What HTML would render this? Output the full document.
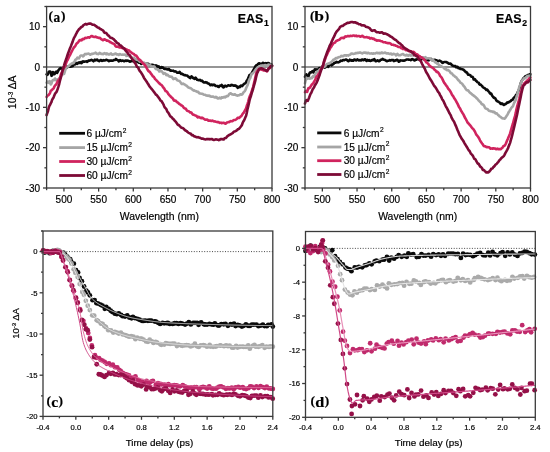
<!DOCTYPE html><html><head><meta charset="utf-8"><style>html,body{margin:0;padding:0;background:#fff;width:550px;height:452px;overflow:hidden}svg{display:block;filter:blur(0.35px)}</style></head><body><svg width="550" height="452" viewBox="0 0 550 452" font-family='"Liberation Sans", sans-serif'>
<style>.ax{stroke:#3a3a3a;stroke-width:1.3;fill:none} text{fill:#000;stroke:#000;stroke-width:0.18px}</style>
<rect width="550" height="452" fill="#fff"/>
<line x1="46.60" y1="67.00" x2="272.00" y2="67.00" stroke="#727272" stroke-width="1.4"/>
<line x1="305.00" y1="67.00" x2="530.50" y2="67.00" stroke="#727272" stroke-width="1.4"/>
<line x1="43.00" y1="251.60" x2="272.80" y2="251.60" stroke="#333" stroke-width="0.9" stroke-dasharray="1 1.6"/>
<line x1="305.50" y1="248.39" x2="535.30" y2="248.39" stroke="#333" stroke-width="0.9" stroke-dasharray="1 1.6"/>
<path d="M46.60,74.26 L47.30,74.89 L48.00,74.26 L48.70,71.82 L49.40,71.49 L50.10,71.45 L50.80,72.27 L51.50,75.84 L52.20,74.93 L52.90,71.99 L53.60,73.13 L54.30,74.21 L55.00,73.53 L55.70,71.94 L56.40,71.59 L57.10,73.00 L57.80,71.57 L58.50,70.20 L59.20,69.47 L59.90,68.42 L60.60,68.14 L61.30,68.52 L62.00,68.58 L62.70,68.50 L63.40,69.11 L64.10,68.49 L64.80,66.60 L65.50,66.17 L66.20,67.48 L66.90,67.68 L67.60,66.69 L68.30,66.20 L69.00,66.34 L69.70,65.98 L70.40,66.80 L71.10,66.56 L71.80,65.71 L72.50,66.18 L73.20,65.53 L73.90,64.66 L74.60,64.58 L75.30,64.27 L76.00,63.30 L76.70,62.98 L77.40,63.84 L78.10,62.91 L78.80,62.47 L79.50,62.99 L80.20,62.16 L80.90,62.78 L81.60,63.20 L82.30,61.71 L83.00,61.28 L83.70,61.89 L84.40,61.65 L85.10,61.57 L85.80,61.50 L86.50,61.37 L87.20,61.86 L87.90,61.21 L88.60,60.61 L89.30,60.61 L90.00,60.51 L90.70,60.17 L91.40,59.85 L92.10,60.23 L92.80,60.80 L93.50,61.32 L94.20,60.42 L94.90,59.64 L95.60,60.41 L96.30,59.93 L97.00,59.48 L97.70,60.21 L98.40,60.88 L99.10,61.18 L99.80,60.55 L100.50,60.12 L101.20,60.15 L101.90,60.88 L102.60,60.81 L103.30,60.08 L104.00,60.38 L104.70,60.45 L105.40,60.23 L106.10,59.84 L106.80,59.91 L107.50,60.17 L108.20,60.63 L108.90,61.06 L109.60,60.59 L110.30,60.60 L111.00,60.48 L111.70,60.63 L112.40,60.77 L113.10,60.59 L113.80,60.10 L114.50,60.03 L115.20,59.89 L115.90,58.98 L116.60,59.54 L117.30,60.00 L118.00,60.21 L118.70,61.46 L119.40,61.11 L120.10,60.02 L120.80,60.46 L121.50,60.93 L122.20,60.82 L122.90,60.58 L123.60,60.97 L124.30,61.29 L125.00,60.66 L125.70,60.48 L126.40,60.94 L127.10,60.61 L127.80,60.75 L128.50,60.88 L129.20,61.21 L129.90,61.68 L130.60,61.40 L131.30,61.15 L132.00,61.13 L132.70,60.65 L133.40,60.32 L134.10,61.30 L134.80,60.98 L135.50,61.24 L136.20,61.46 L136.90,61.53 L137.60,62.02 L138.30,62.18 L139.00,62.73 L139.70,62.01 L140.40,62.64 L141.10,63.99 L141.80,63.67 L142.50,63.19 L143.20,63.34 L143.90,63.23 L144.60,63.86 L145.30,64.17 L146.00,63.84 L146.70,63.87 L147.40,63.76 L148.10,63.68 L148.80,64.53 L149.50,65.08 L150.20,65.08 L150.90,65.26 L151.60,64.75 L152.30,64.75 L153.00,64.95 L153.70,65.24 L154.40,65.50 L155.10,65.58 L155.80,65.41 L156.50,65.44 L157.20,66.84 L157.90,67.12 L158.60,66.29 L159.30,66.89 L160.00,68.05 L160.70,67.57 L161.40,67.15 L162.10,67.68 L162.80,67.28 L163.50,68.02 L164.20,68.90 L164.90,68.85 L165.60,68.77 L166.30,69.12 L167.00,69.40 L167.70,69.37 L168.40,69.34 L169.10,69.11 L169.80,70.24 L170.50,70.69 L171.20,70.46 L171.90,70.80 L172.60,70.68 L173.30,70.66 L174.00,71.24 L174.70,71.48 L175.40,71.35 L176.10,71.65 L176.80,72.35 L177.50,72.79 L178.20,72.69 L178.90,72.42 L179.60,71.96 L180.30,72.79 L181.00,73.95 L181.70,73.78 L182.40,73.87 L183.10,74.50 L183.80,74.88 L184.50,75.21 L185.20,74.98 L185.90,75.49 L186.60,75.46 L187.30,75.48 L188.00,76.43 L188.70,76.72 L189.40,77.55 L190.10,78.08 L190.80,77.19 L191.50,76.25 L192.20,77.31 L192.90,77.87 L193.60,77.84 L194.30,78.85 L195.00,78.50 L195.70,77.64 L196.40,78.66 L197.10,79.77 L197.80,79.86 L198.50,80.14 L199.20,80.18 L199.90,79.85 L200.60,80.39 L201.30,80.88 L202.00,80.57 L202.70,81.40 L203.40,82.27 L204.10,82.47 L204.80,82.35 L205.50,82.17 L206.20,82.39 L206.90,82.53 L207.60,83.21 L208.30,83.47 L209.00,83.75 L209.70,84.39 L210.40,85.24 L211.10,84.76 L211.80,84.51 L212.50,85.20 L213.20,85.03 L213.90,84.67 L214.60,84.68 L215.30,85.72 L216.00,86.06 L216.70,86.00 L217.40,86.11 L218.10,86.70 L218.80,86.97 L219.50,85.81 L220.20,85.67 L220.90,85.85 L221.60,84.91 L222.30,85.49 L223.00,87.24 L223.70,87.36 L224.40,86.23 L225.10,85.65 L225.80,86.32 L226.50,86.51 L227.20,85.86 L227.90,85.56 L228.60,85.37 L229.30,85.57 L230.00,85.69 L230.70,85.45 L231.40,84.88 L232.10,85.08 L232.80,85.34 L233.50,85.72 L234.20,85.65 L234.90,85.35 L235.60,86.02 L236.30,85.73 L237.00,86.56 L237.70,87.78 L238.40,87.04 L239.10,86.85 L239.80,87.21 L240.50,85.82 L241.20,85.52 L241.90,86.13 L242.60,85.59 L243.30,84.67 L244.00,83.97 L244.70,83.56 L245.40,83.18 L246.10,82.27 L246.80,80.61 L247.50,79.84 L248.20,78.39 L248.90,76.46 L249.60,74.88 L250.30,74.57 L251.00,74.56 L251.70,73.23 L252.40,72.03 L253.10,70.64 L253.80,69.41 L254.50,68.20 L255.20,66.78 L255.90,65.61 L256.60,65.22 L257.30,64.82 L258.00,64.07 L258.70,63.52 L259.40,63.20 L260.10,63.97 L260.80,64.34 L261.50,63.69 L262.20,63.32 L262.90,62.83 L263.60,62.92 L264.30,63.68 L265.00,63.57 L265.70,63.17 L266.40,63.29 L267.10,63.50 L267.80,63.06 L268.50,63.04 L269.20,63.46 L269.90,64.05 L270.60,64.25 L271.30,64.31 L272.00,65.40" fill="none" stroke="#0a0a0a" stroke-width="2.6" stroke-linejoin="round" stroke-linecap="round"/>
<path d="M46.60,82.67 L47.30,81.65 L48.00,82.18 L48.70,82.82 L49.40,81.21 L50.10,81.49 L50.80,84.50 L51.50,83.51 L52.20,80.99 L52.90,80.07 L53.60,80.27 L54.30,79.92 L55.00,78.51 L55.70,80.13 L56.40,80.00 L57.10,79.42 L57.80,80.63 L58.50,79.58 L59.20,78.38 L59.90,78.75 L60.60,77.64 L61.30,75.46 L62.00,74.08 L62.70,73.62 L63.40,74.24 L64.10,73.80 L64.80,71.55 L65.50,69.37 L66.20,68.24 L66.90,67.57 L67.60,66.83 L68.30,66.13 L69.00,65.79 L69.70,65.06 L70.40,64.42 L71.10,64.11 L71.80,63.53 L72.50,63.06 L73.20,63.26 L73.90,62.70 L74.60,61.38 L75.30,59.91 L76.00,59.48 L76.70,58.84 L77.40,57.62 L78.10,58.14 L78.80,58.38 L79.50,57.45 L80.20,56.03 L80.90,55.48 L81.60,55.47 L82.30,55.52 L83.00,56.35 L83.70,55.96 L84.40,54.63 L85.10,53.92 L85.80,54.02 L86.50,54.23 L87.20,53.71 L87.90,53.72 L88.60,53.65 L89.30,53.93 L90.00,54.66 L90.70,54.59 L91.40,53.98 L92.10,53.74 L92.80,53.84 L93.50,53.50 L94.20,53.43 L94.90,53.11 L95.60,52.71 L96.30,53.46 L97.00,53.92 L97.70,53.71 L98.40,54.14 L99.10,53.46 L99.80,52.83 L100.50,53.51 L101.20,53.94 L101.90,53.75 L102.60,53.99 L103.30,54.21 L104.00,53.42 L104.70,53.03 L105.40,53.76 L106.10,54.26 L106.80,53.32 L107.50,53.64 L108.20,54.54 L108.90,54.55 L109.60,54.22 L110.30,53.66 L111.00,53.41 L111.70,54.44 L112.40,54.81 L113.10,54.51 L113.80,54.39 L114.50,53.93 L115.20,53.62 L115.90,53.49 L116.60,54.49 L117.30,54.25 L118.00,54.36 L118.70,55.00 L119.40,54.33 L120.10,54.12 L120.80,54.42 L121.50,54.67 L122.20,54.74 L122.90,54.57 L123.60,54.76 L124.30,54.80 L125.00,54.57 L125.70,55.03 L126.40,55.92 L127.10,55.53 L127.80,55.37 L128.50,55.88 L129.20,55.75 L129.90,56.53 L130.60,56.96 L131.30,57.48 L132.00,57.69 L132.70,57.61 L133.40,58.12 L134.10,58.04 L134.80,58.66 L135.50,59.19 L136.20,59.52 L136.90,59.90 L137.60,59.67 L138.30,60.04 L139.00,60.84 L139.70,61.63 L140.40,61.69 L141.10,61.75 L141.80,61.85 L142.50,62.48 L143.20,63.07 L143.90,62.53 L144.60,63.20 L145.30,64.51 L146.00,64.26 L146.70,63.72 L147.40,64.23 L148.10,64.44 L148.80,65.06 L149.50,65.39 L150.20,65.23 L150.90,65.96 L151.60,66.19 L152.30,66.41 L153.00,66.63 L153.70,66.37 L154.40,66.43 L155.10,67.92 L155.80,68.89 L156.50,68.78 L157.20,69.36 L157.90,69.82 L158.60,70.33 L159.30,71.43 L160.00,71.51 L160.70,70.72 L161.40,71.15 L162.10,71.63 L162.80,72.65 L163.50,73.81 L164.20,73.59 L164.90,73.19 L165.60,73.78 L166.30,75.14 L167.00,74.64 L167.70,74.71 L168.40,75.69 L169.10,76.24 L169.80,76.60 L170.50,76.48 L171.20,76.67 L171.90,76.76 L172.60,78.11 L173.30,79.08 L174.00,78.78 L174.70,78.52 L175.40,78.33 L176.10,78.85 L176.80,79.86 L177.50,80.35 L178.20,80.71 L178.90,80.75 L179.60,81.18 L180.30,82.00 L181.00,82.93 L181.70,84.06 L182.40,84.02 L183.10,83.56 L183.80,84.05 L184.50,84.57 L185.20,84.80 L185.90,85.44 L186.60,85.78 L187.30,86.45 L188.00,87.22 L188.70,87.54 L189.40,87.96 L190.10,88.07 L190.80,88.24 L191.50,88.85 L192.20,89.42 L192.90,90.00 L193.60,90.59 L194.30,90.41 L195.00,90.80 L195.70,91.15 L196.40,91.23 L197.10,91.92 L197.80,91.71 L198.50,92.15 L199.20,93.23 L199.90,93.43 L200.60,93.50 L201.30,93.68 L202.00,93.74 L202.70,94.01 L203.40,94.38 L204.10,94.71 L204.80,94.68 L205.50,94.91 L206.20,95.55 L206.90,95.58 L207.60,95.53 L208.30,95.92 L209.00,95.62 L209.70,95.73 L210.40,96.53 L211.10,96.60 L211.80,96.77 L212.50,96.57 L213.20,96.46 L213.90,97.05 L214.60,97.43 L215.30,97.42 L216.00,96.88 L216.70,97.15 L217.40,98.25 L218.10,98.55 L218.80,98.35 L219.50,97.56 L220.20,97.90 L220.90,98.47 L221.60,97.29 L222.30,97.50 L223.00,97.78 L223.70,96.95 L224.40,96.89 L225.10,97.33 L225.80,96.90 L226.50,96.00 L227.20,96.20 L227.90,96.17 L228.60,95.08 L229.30,94.11 L230.00,93.52 L230.70,93.34 L231.40,93.97 L232.10,94.42 L232.80,94.40 L233.50,94.72 L234.20,94.53 L234.90,94.29 L235.60,94.95 L236.30,95.31 L237.00,95.55 L237.70,95.59 L238.40,95.18 L239.10,95.23 L239.80,95.01 L240.50,94.22 L241.20,94.52 L241.90,94.66 L242.60,93.99 L243.30,92.72 L244.00,91.70 L244.70,91.22 L245.40,90.11 L246.10,88.33 L246.80,86.62 L247.50,85.44 L248.20,83.33 L248.90,80.69 L249.60,78.93 L250.30,77.93 L251.00,75.53 L251.70,73.87 L252.40,73.78 L253.10,72.89 L253.80,72.24 L254.50,71.46 L255.20,70.15 L255.90,69.16 L256.60,68.72 L257.30,67.88 L258.00,67.10 L258.70,67.16 L259.40,67.38 L260.10,66.55 L260.80,65.48 L261.50,65.44 L262.20,65.93 L262.90,65.85 L263.60,65.90 L264.30,65.56 L265.00,64.98 L265.70,65.25 L266.40,65.59 L267.10,66.03 L267.80,65.22 L268.50,64.53 L269.20,65.18 L269.90,65.27 L270.60,64.62 L271.30,65.22 L272.00,65.93" fill="none" stroke="#a5a5a5" stroke-width="2.6" stroke-linejoin="round" stroke-linecap="round"/>
<path d="M46.60,96.97 L47.30,95.87 L48.00,95.46 L48.70,94.88 L49.40,94.03 L50.10,92.78 L50.80,90.69 L51.50,90.47 L52.20,89.68 L52.90,88.98 L53.60,88.52 L54.30,86.74 L55.00,85.61 L55.70,84.81 L56.40,84.03 L57.10,82.74 L57.80,80.91 L58.50,80.19 L59.20,79.61 L59.90,78.19 L60.60,75.66 L61.30,73.31 L62.00,72.18 L62.70,70.56 L63.40,68.39 L64.10,67.26 L64.80,66.52 L65.50,64.95 L66.20,62.85 L66.90,61.02 L67.60,59.97 L68.30,58.47 L69.00,56.66 L69.70,55.49 L70.40,54.28 L71.10,52.76 L71.80,51.42 L72.50,50.02 L73.20,48.60 L73.90,47.46 L74.60,46.78 L75.30,46.00 L76.00,44.51 L76.70,43.51 L77.40,42.82 L78.10,42.37 L78.80,41.35 L79.50,40.26 L80.20,40.00 L80.90,40.39 L81.60,40.28 L82.30,39.22 L83.00,38.86 L83.70,39.15 L84.40,38.69 L85.10,37.87 L85.80,38.04 L86.50,38.06 L87.20,37.71 L87.90,37.22 L88.60,37.28 L89.30,37.61 L90.00,37.07 L90.70,36.69 L91.40,36.01 L92.10,36.04 L92.80,36.60 L93.50,36.68 L94.20,37.06 L94.90,37.04 L95.60,36.62 L96.30,36.98 L97.00,37.42 L97.70,37.48 L98.40,37.76 L99.10,38.00 L99.80,37.82 L100.50,38.43 L101.20,39.29 L101.90,39.48 L102.60,40.13 L103.30,40.08 L104.00,39.37 L104.70,39.37 L105.40,39.75 L106.10,40.08 L106.80,40.64 L107.50,40.52 L108.20,40.85 L108.90,41.25 L109.60,41.55 L110.30,42.25 L111.00,42.48 L111.70,42.89 L112.40,43.26 L113.10,43.56 L113.80,43.71 L114.50,44.29 L115.20,45.59 L115.90,46.50 L116.60,46.76 L117.30,46.80 L118.00,46.62 L118.70,47.09 L119.40,47.50 L120.10,47.37 L120.80,47.53 L121.50,47.78 L122.20,47.95 L122.90,48.12 L123.60,48.17 L124.30,48.32 L125.00,49.39 L125.70,49.72 L126.40,49.39 L127.10,49.85 L127.80,50.43 L128.50,50.40 L129.20,50.58 L129.90,51.51 L130.60,52.08 L131.30,52.36 L132.00,53.18 L132.70,53.50 L133.40,53.68 L134.10,54.27 L134.80,55.18 L135.50,55.41 L136.20,55.47 L136.90,56.47 L137.60,57.48 L138.30,58.47 L139.00,59.40 L139.70,59.63 L140.40,60.27 L141.10,61.40 L141.80,61.87 L142.50,62.92 L143.20,63.69 L143.90,63.89 L144.60,64.87 L145.30,65.88 L146.00,66.71 L146.70,68.11 L147.40,69.30 L148.10,70.57 L148.80,71.42 L149.50,71.62 L150.20,72.44 L150.90,73.54 L151.60,74.35 L152.30,75.57 L153.00,76.56 L153.70,76.77 L154.40,77.85 L155.10,79.03 L155.80,79.64 L156.50,80.36 L157.20,81.10 L157.90,81.74 L158.60,82.56 L159.30,83.34 L160.00,83.84 L160.70,84.58 L161.40,84.91 L162.10,85.60 L162.80,86.78 L163.50,87.79 L164.20,88.46 L164.90,89.76 L165.60,91.07 L166.30,91.30 L167.00,91.77 L167.70,92.88 L168.40,94.11 L169.10,94.78 L169.80,95.55 L170.50,96.27 L171.20,97.07 L171.90,97.71 L172.60,98.20 L173.30,99.25 L174.00,100.51 L174.70,100.62 L175.40,100.46 L176.10,101.09 L176.80,101.99 L177.50,102.51 L178.20,102.78 L178.90,103.65 L179.60,104.13 L180.30,104.49 L181.00,105.20 L181.70,105.50 L182.40,105.83 L183.10,106.82 L183.80,107.77 L184.50,108.38 L185.20,108.43 L185.90,108.89 L186.60,110.03 L187.30,110.77 L188.00,111.04 L188.70,111.16 L189.40,111.81 L190.10,112.36 L190.80,112.37 L191.50,112.76 L192.20,113.84 L192.90,114.51 L193.60,114.85 L194.30,115.06 L195.00,115.37 L195.70,115.68 L196.40,115.74 L197.10,116.82 L197.80,117.35 L198.50,116.91 L199.20,116.99 L199.90,117.48 L200.60,118.07 L201.30,118.12 L202.00,117.64 L202.70,117.93 L203.40,118.59 L204.10,118.90 L204.80,119.42 L205.50,119.67 L206.20,119.72 L206.90,119.54 L207.60,119.72 L208.30,120.66 L209.00,120.79 L209.70,120.48 L210.40,120.48 L211.10,121.00 L211.80,120.88 L212.50,120.56 L213.20,121.06 L213.90,121.43 L214.60,121.39 L215.30,121.48 L216.00,121.73 L216.70,121.90 L217.40,122.15 L218.10,122.04 L218.80,122.25 L219.50,122.92 L220.20,122.83 L220.90,122.66 L221.60,123.14 L222.30,122.96 L223.00,122.83 L223.70,122.77 L224.40,122.92 L225.10,123.64 L225.80,123.72 L226.50,122.92 L227.20,122.42 L227.90,122.31 L228.60,121.94 L229.30,122.08 L230.00,121.51 L230.70,121.16 L231.40,121.26 L232.10,121.13 L232.80,120.96 L233.50,120.20 L234.20,119.96 L234.90,120.02 L235.60,119.66 L236.30,119.27 L237.00,118.78 L237.70,117.76 L238.40,117.70 L239.10,117.95 L239.80,117.29 L240.50,116.58 L241.20,116.14 L241.90,115.24 L242.60,113.93 L243.30,113.01 L244.00,112.40 L244.70,110.92 L245.40,109.64 L246.10,108.31 L246.80,105.76 L247.50,103.94 L248.20,101.78 L248.90,98.80 L249.60,96.62 L250.30,95.19 L251.00,93.62 L251.70,91.31 L252.40,89.05 L253.10,87.10 L253.80,84.13 L254.50,80.94 L255.20,77.93 L255.90,74.81 L256.60,72.38 L257.30,71.11 L258.00,70.22 L258.70,69.27 L259.40,68.78 L260.10,69.21 L260.80,69.46 L261.50,69.54 L262.20,69.92 L262.90,70.02 L263.60,70.53 L264.30,70.45 L265.00,70.35 L265.70,70.67 L266.40,71.01 L267.10,71.33 L267.80,69.87 L268.50,68.48 L269.20,68.31 L269.90,67.97 L270.60,67.39 L271.30,66.74 L272.00,66.29" fill="none" stroke="#d0245e" stroke-width="2.6" stroke-linejoin="round" stroke-linecap="round"/>
<path d="M46.60,115.01 L47.30,112.92 L48.00,111.09 L48.70,107.97 L49.40,105.83 L50.10,104.74 L50.80,103.15 L51.50,101.97 L52.20,99.68 L52.90,98.56 L53.60,97.26 L54.30,95.44 L55.00,93.88 L55.70,92.80 L56.40,92.02 L57.10,90.70 L57.80,88.61 L58.50,86.42 L59.20,84.02 L59.90,81.03 L60.60,78.45 L61.30,75.99 L62.00,72.97 L62.70,69.95 L63.40,67.53 L64.10,65.33 L64.80,62.93 L65.50,61.02 L66.20,59.04 L66.90,56.84 L67.60,54.72 L68.30,52.71 L69.00,51.05 L69.70,48.92 L70.40,47.36 L71.10,45.64 L71.80,43.73 L72.50,42.11 L73.20,39.92 L73.90,38.10 L74.60,36.90 L75.30,35.61 L76.00,34.21 L76.70,32.92 L77.40,31.41 L78.10,30.45 L78.80,29.47 L79.50,28.76 L80.20,28.31 L80.90,27.37 L81.60,26.86 L82.30,26.54 L83.00,25.80 L83.70,24.93 L84.40,24.61 L85.10,24.19 L85.80,23.91 L86.50,24.45 L87.20,24.25 L87.90,23.87 L88.60,23.65 L89.30,23.47 L90.00,23.64 L90.70,23.60 L91.40,23.94 L92.10,24.57 L92.80,24.80 L93.50,24.79 L94.20,24.89 L94.90,25.32 L95.60,25.87 L96.30,26.36 L97.00,26.88 L97.70,27.56 L98.40,27.64 L99.10,27.68 L99.80,28.76 L100.50,29.20 L101.20,29.30 L101.90,29.79 L102.60,30.14 L103.30,30.72 L104.00,32.05 L104.70,32.83 L105.40,32.68 L106.10,32.92 L106.80,33.76 L107.50,34.85 L108.20,35.44 L108.90,35.72 L109.60,36.68 L110.30,37.58 L111.00,37.86 L111.70,37.98 L112.40,38.25 L113.10,38.86 L113.80,39.23 L114.50,40.06 L115.20,40.93 L115.90,41.41 L116.60,42.49 L117.30,43.22 L118.00,43.18 L118.70,43.74 L119.40,44.86 L120.10,45.17 L120.80,45.38 L121.50,46.19 L122.20,46.75 L122.90,47.79 L123.60,48.33 L124.30,48.52 L125.00,49.73 L125.70,50.68 L126.40,51.56 L127.10,52.47 L127.80,53.22 L128.50,54.27 L129.20,54.75 L129.90,55.43 L130.60,56.67 L131.30,57.65 L132.00,58.82 L132.70,59.57 L133.40,60.37 L134.10,61.73 L134.80,62.95 L135.50,63.67 L136.20,65.07 L136.90,66.77 L137.60,67.11 L138.30,67.77 L139.00,69.72 L139.70,70.95 L140.40,71.63 L141.10,72.62 L141.80,73.69 L142.50,74.92 L143.20,76.15 L143.90,77.58 L144.60,78.81 L145.30,79.72 L146.00,80.66 L146.70,81.81 L147.40,82.90 L148.10,83.87 L148.80,85.26 L149.50,86.33 L150.20,87.16 L150.90,88.09 L151.60,88.91 L152.30,89.73 L153.00,90.57 L153.70,91.68 L154.40,92.42 L155.10,93.43 L155.80,94.54 L156.50,94.96 L157.20,95.71 L157.90,96.60 L158.60,97.63 L159.30,98.54 L160.00,99.69 L160.70,100.66 L161.40,100.97 L162.10,102.06 L162.80,103.22 L163.50,104.50 L164.20,106.30 L164.90,107.60 L165.60,108.24 L166.30,109.08 L167.00,110.85 L167.70,112.15 L168.40,112.81 L169.10,113.95 L169.80,115.41 L170.50,116.39 L171.20,116.82 L171.90,117.53 L172.60,118.51 L173.30,119.18 L174.00,119.67 L174.70,120.64 L175.40,121.47 L176.10,122.22 L176.80,123.18 L177.50,124.41 L178.20,124.89 L178.90,125.03 L179.60,125.81 L180.30,126.54 L181.00,127.39 L181.70,127.77 L182.40,127.94 L183.10,128.24 L183.80,128.75 L184.50,129.73 L185.20,130.45 L185.90,130.62 L186.60,131.03 L187.30,131.74 L188.00,132.43 L188.70,132.81 L189.40,133.16 L190.10,133.41 L190.80,133.71 L191.50,134.92 L192.20,135.15 L192.90,135.16 L193.60,136.06 L194.30,136.40 L195.00,136.48 L195.70,136.79 L196.40,137.17 L197.10,137.36 L197.80,137.14 L198.50,137.30 L199.20,137.67 L199.90,137.73 L200.60,138.10 L201.30,138.48 L202.00,138.74 L202.70,138.61 L203.40,138.72 L204.10,139.17 L204.80,139.30 L205.50,139.44 L206.20,139.25 L206.90,139.01 L207.60,139.30 L208.30,139.13 L209.00,139.08 L209.70,139.33 L210.40,139.27 L211.10,139.06 L211.80,139.00 L212.50,139.39 L213.20,139.78 L213.90,140.00 L214.60,139.79 L215.30,139.54 L216.00,139.38 L216.70,139.51 L217.40,139.63 L218.10,139.68 L218.80,140.10 L219.50,139.96 L220.20,139.28 L220.90,139.10 L221.60,139.11 L222.30,139.04 L223.00,139.52 L223.70,139.51 L224.40,138.46 L225.10,138.02 L225.80,138.05 L226.50,137.33 L227.20,136.38 L227.90,135.80 L228.60,135.39 L229.30,134.99 L230.00,134.62 L230.70,134.25 L231.40,133.81 L232.10,133.45 L232.80,132.96 L233.50,131.98 L234.20,131.46 L234.90,131.48 L235.60,131.03 L236.30,130.74 L237.00,130.27 L237.70,129.36 L238.40,129.15 L239.10,128.82 L239.80,127.79 L240.50,126.98 L241.20,126.19 L241.90,124.99 L242.60,123.06 L243.30,121.54 L244.00,120.53 L244.70,118.89 L245.40,117.31 L246.10,115.69 L246.80,112.79 L247.50,109.12 L248.20,106.37 L248.90,103.42 L249.60,100.04 L250.30,97.71 L251.00,95.70 L251.70,93.20 L252.40,91.00 L253.10,88.75 L253.80,86.01 L254.50,83.64 L255.20,81.15 L255.90,77.98 L256.60,75.04 L257.30,72.74 L258.00,71.54 L258.70,69.98 L259.40,68.81 L260.10,68.73 L260.80,68.27 L261.50,68.35 L262.20,68.57 L262.90,68.92 L263.60,69.26 L264.30,69.42 L265.00,69.78 L265.70,70.44 L266.40,70.86 L267.10,70.77 L267.80,69.97 L268.50,68.91 L269.20,68.20 L269.90,67.37 L270.60,66.37 L271.30,65.80 L272.00,65.64" fill="none" stroke="#7d0a36" stroke-width="2.6" stroke-linejoin="round" stroke-linecap="round"/>
<path d="M305.00,76.79 L305.70,75.35 L306.40,74.35 L307.10,76.17 L307.80,76.34 L308.50,76.50 L309.20,74.04 L309.90,72.43 L310.60,72.37 L311.30,72.46 L312.00,71.63 L312.70,71.12 L313.40,72.49 L314.10,70.88 L314.80,69.43 L315.50,69.72 L316.20,69.30 L316.90,70.10 L317.60,69.63 L318.30,69.27 L319.00,68.17 L319.70,68.07 L320.40,68.41 L321.10,67.91 L321.80,68.09 L322.50,66.34 L323.20,65.70 L323.90,66.81 L324.60,67.62 L325.30,67.42 L326.00,66.61 L326.70,65.65 L327.40,65.85 L328.10,66.86 L328.80,65.99 L329.50,64.87 L330.20,63.93 L330.90,64.03 L331.60,65.33 L332.30,64.96 L333.00,64.13 L333.70,63.79 L334.40,62.74 L335.10,62.80 L335.80,62.53 L336.50,61.81 L337.20,62.16 L337.90,62.37 L338.60,62.25 L339.30,61.91 L340.00,61.36 L340.70,60.64 L341.40,60.78 L342.10,60.85 L342.80,60.27 L343.50,59.99 L344.20,60.17 L344.90,59.90 L345.60,59.55 L346.30,59.58 L347.00,60.05 L347.70,60.69 L348.40,61.26 L349.10,60.61 L349.80,59.71 L350.50,60.47 L351.20,60.59 L351.90,60.17 L352.60,60.77 L353.30,60.75 L354.00,59.80 L354.70,59.47 L355.40,59.93 L356.10,60.44 L356.80,59.88 L357.50,59.45 L358.20,60.05 L358.90,60.54 L359.60,60.15 L360.30,60.16 L361.00,60.54 L361.70,59.77 L362.40,59.48 L363.10,60.18 L363.80,60.09 L364.50,59.28 L365.20,59.37 L365.90,60.29 L366.60,60.89 L367.30,59.95 L368.00,60.28 L368.70,60.62 L369.40,60.09 L370.10,60.84 L370.80,60.85 L371.50,60.50 L372.20,59.82 L372.90,59.97 L373.60,60.12 L374.30,59.11 L375.00,60.24 L375.70,61.27 L376.40,60.95 L377.10,60.43 L377.80,60.32 L378.50,61.12 L379.20,61.14 L379.90,60.63 L380.60,59.75 L381.30,59.70 L382.00,59.39 L382.70,58.90 L383.40,59.64 L384.10,59.88 L384.80,59.82 L385.50,60.12 L386.20,60.81 L386.90,61.29 L387.60,60.69 L388.30,60.69 L389.00,60.49 L389.70,60.02 L390.40,60.59 L391.10,60.33 L391.80,59.98 L392.50,59.98 L393.20,60.12 L393.90,61.08 L394.60,60.82 L395.30,60.38 L396.00,60.33 L396.70,59.89 L397.40,59.78 L398.10,60.60 L398.80,61.73 L399.50,61.41 L400.20,60.41 L400.90,60.46 L401.60,60.56 L402.30,60.56 L403.00,60.73 L403.70,60.53 L404.40,60.60 L405.10,60.29 L405.80,59.93 L406.50,59.53 L407.20,59.48 L407.90,59.53 L408.60,59.58 L409.30,59.69 L410.00,59.72 L410.70,60.12 L411.40,59.59 L412.10,59.14 L412.80,59.24 L413.50,59.69 L414.20,60.47 L414.90,60.42 L415.60,59.66 L416.30,59.74 L417.00,59.25 L417.70,59.15 L418.40,59.33 L419.10,57.89 L419.80,58.90 L420.50,60.28 L421.20,59.12 L421.90,58.70 L422.60,58.99 L423.30,59.02 L424.00,58.67 L424.70,58.49 L425.40,59.18 L426.10,59.54 L426.80,59.85 L427.50,59.88 L428.20,60.33 L428.90,60.15 L429.60,59.56 L430.30,59.26 L431.00,58.85 L431.70,59.96 L432.40,60.14 L433.10,59.96 L433.80,60.33 L434.50,59.92 L435.20,59.92 L435.90,60.18 L436.60,60.24 L437.30,60.75 L438.00,61.22 L438.70,60.91 L439.40,60.53 L440.10,60.93 L440.80,61.32 L441.50,61.70 L442.20,62.74 L442.90,62.85 L443.60,62.18 L444.30,62.05 L445.00,61.98 L445.70,61.95 L446.40,62.11 L447.10,62.48 L447.80,62.87 L448.50,63.45 L449.20,63.69 L449.90,63.62 L450.60,63.60 L451.30,64.43 L452.00,65.23 L452.70,65.54 L453.40,65.90 L454.10,66.08 L454.80,66.03 L455.50,66.08 L456.20,67.32 L456.90,67.02 L457.60,66.86 L458.30,68.12 L459.00,68.24 L459.70,68.31 L460.40,68.97 L461.10,68.91 L461.80,69.06 L462.50,69.44 L463.20,69.55 L463.90,70.11 L464.60,70.78 L465.30,71.53 L466.00,72.24 L466.70,72.26 L467.40,73.30 L468.10,74.68 L468.80,74.82 L469.50,74.88 L470.20,75.17 L470.90,76.04 L471.60,76.80 L472.30,76.68 L473.00,77.41 L473.70,79.54 L474.40,79.35 L475.10,79.37 L475.80,80.76 L476.50,81.06 L477.20,82.04 L477.90,82.35 L478.60,82.61 L479.30,84.12 L480.00,84.64 L480.70,84.66 L481.40,85.38 L482.10,85.99 L482.80,87.07 L483.50,87.53 L484.20,87.93 L484.90,88.43 L485.60,88.97 L486.30,89.96 L487.00,89.52 L487.70,90.17 L488.40,91.30 L489.10,91.79 L489.80,93.28 L490.50,93.72 L491.20,93.56 L491.90,95.13 L492.60,96.27 L493.30,97.08 L494.00,97.93 L494.70,97.91 L495.40,98.54 L496.10,99.97 L496.80,101.01 L497.50,101.27 L498.20,101.59 L498.90,102.10 L499.60,102.37 L500.30,103.44 L501.00,104.02 L501.70,103.40 L502.40,103.57 L503.10,104.43 L503.80,104.94 L504.50,104.66 L505.20,104.10 L505.90,103.90 L506.60,103.23 L507.30,102.36 L508.00,102.67 L508.70,102.38 L509.40,101.65 L510.10,101.58 L510.80,101.04 L511.50,100.02 L512.20,99.90 L512.90,99.50 L513.60,98.05 L514.30,97.39 L515.00,96.91 L515.70,95.58 L516.40,94.59 L517.10,93.83 L517.80,92.07 L518.50,90.68 L519.20,89.20 L519.90,86.71 L520.60,83.81 L521.30,81.61 L522.00,80.47 L522.70,79.57 L523.40,78.32 L524.10,77.72 L524.80,77.03 L525.50,76.19 L526.20,76.54 L526.90,75.95 L527.60,74.95 L528.30,75.17 L529.00,74.90 L529.70,74.21 L530.40,74.25" fill="none" stroke="#0a0a0a" stroke-width="2.6" stroke-linejoin="round" stroke-linecap="round"/>
<path d="M305.00,83.30 L305.70,80.32 L306.40,77.68 L307.10,78.94 L307.80,78.40 L308.50,78.25 L309.20,78.15 L309.90,78.75 L310.60,78.30 L311.30,77.63 L312.00,78.06 L312.70,76.81 L313.40,75.88 L314.10,76.65 L314.80,75.97 L315.50,73.77 L316.20,72.76 L316.90,71.89 L317.60,71.37 L318.30,71.65 L319.00,70.51 L319.70,69.40 L320.40,69.72 L321.10,69.04 L321.80,68.07 L322.50,67.33 L323.20,66.39 L323.90,66.08 L324.60,66.71 L325.30,66.24 L326.00,64.71 L326.70,64.15 L327.40,63.78 L328.10,63.72 L328.80,63.36 L329.50,63.36 L330.20,62.91 L330.90,62.26 L331.60,61.85 L332.30,61.14 L333.00,60.17 L333.70,59.51 L334.40,59.53 L335.10,59.08 L335.80,58.05 L336.50,58.02 L337.20,58.20 L337.90,57.47 L338.60,57.21 L339.30,57.00 L340.00,56.96 L340.70,56.44 L341.40,55.84 L342.10,56.11 L342.80,56.25 L343.50,55.88 L344.20,55.51 L344.90,55.22 L345.60,55.22 L346.30,55.67 L347.00,55.24 L347.70,55.21 L348.40,55.63 L349.10,54.94 L349.80,54.80 L350.50,54.39 L351.20,53.56 L351.90,53.49 L352.60,53.75 L353.30,53.90 L354.00,53.75 L354.70,53.75 L355.40,53.17 L356.10,53.16 L356.80,53.26 L357.50,52.83 L358.20,53.03 L358.90,52.81 L359.60,52.47 L360.30,52.46 L361.00,52.81 L361.70,53.25 L362.40,53.41 L363.10,52.96 L363.80,52.58 L364.50,52.60 L365.20,52.95 L365.90,52.63 L366.60,52.86 L367.30,53.30 L368.00,52.73 L368.70,52.96 L369.40,53.47 L370.10,53.47 L370.80,53.48 L371.50,53.42 L372.20,53.47 L372.90,53.79 L373.60,53.41 L374.30,53.46 L375.00,53.54 L375.70,53.16 L376.40,52.85 L377.10,52.74 L377.80,53.22 L378.50,52.93 L379.20,52.90 L379.90,53.37 L380.60,53.26 L381.30,52.54 L382.00,52.43 L382.70,53.25 L383.40,53.09 L384.10,52.97 L384.80,52.57 L385.50,52.79 L386.20,53.35 L386.90,53.48 L387.60,53.24 L388.30,53.28 L389.00,53.82 L389.70,53.95 L390.40,53.85 L391.10,53.55 L391.80,54.53 L392.50,54.56 L393.20,53.81 L393.90,54.05 L394.60,54.03 L395.30,54.50 L396.00,55.33 L396.70,54.83 L397.40,53.90 L398.10,54.46 L398.80,55.29 L399.50,55.22 L400.20,55.26 L400.90,54.81 L401.60,54.46 L402.30,54.34 L403.00,54.00 L403.70,54.69 L404.40,54.93 L405.10,55.32 L405.80,55.55 L406.50,54.75 L407.20,54.98 L407.90,55.69 L408.60,55.63 L409.30,54.81 L410.00,54.82 L410.70,55.59 L411.40,55.39 L412.10,54.82 L412.80,55.30 L413.50,55.62 L414.20,55.09 L414.90,55.06 L415.60,55.31 L416.30,55.68 L417.00,56.12 L417.70,56.56 L418.40,56.95 L419.10,56.38 L419.80,56.49 L420.50,57.36 L421.20,57.54 L421.90,57.74 L422.60,57.61 L423.30,57.20 L424.00,57.77 L424.70,57.89 L425.40,57.17 L426.10,57.93 L426.80,58.51 L427.50,58.31 L428.20,58.32 L428.90,58.24 L429.60,58.53 L430.30,59.06 L431.00,59.78 L431.70,59.56 L432.40,60.03 L433.10,60.73 L433.80,60.63 L434.50,61.59 L435.20,62.32 L435.90,62.16 L436.60,63.17 L437.30,63.83 L438.00,63.84 L438.70,64.60 L439.40,65.38 L440.10,65.62 L440.80,65.94 L441.50,66.29 L442.20,66.76 L442.90,67.19 L443.60,67.21 L444.30,68.39 L445.00,68.99 L445.70,68.87 L446.40,69.79 L447.10,70.24 L447.80,69.80 L448.50,70.36 L449.20,70.80 L449.90,71.55 L450.60,72.95 L451.30,73.24 L452.00,73.49 L452.70,74.45 L453.40,75.32 L454.10,75.68 L454.80,76.51 L455.50,76.89 L456.20,77.28 L456.90,78.44 L457.60,79.19 L458.30,80.13 L459.00,80.61 L459.70,81.47 L460.40,82.56 L461.10,83.01 L461.80,83.48 L462.50,84.13 L463.20,85.41 L463.90,86.26 L464.60,86.94 L465.30,88.26 L466.00,89.26 L466.70,90.08 L467.40,90.36 L468.10,90.25 L468.80,91.23 L469.50,92.22 L470.20,92.83 L470.90,93.32 L471.60,93.91 L472.30,94.72 L473.00,95.15 L473.70,95.64 L474.40,96.14 L475.10,96.67 L475.80,97.25 L476.50,98.11 L477.20,98.59 L477.90,99.53 L478.60,100.41 L479.30,100.99 L480.00,101.80 L480.70,102.27 L481.40,103.69 L482.10,104.49 L482.80,104.35 L483.50,105.02 L484.20,106.04 L484.90,107.57 L485.60,108.39 L486.30,108.67 L487.00,108.89 L487.70,109.22 L488.40,110.13 L489.10,110.95 L489.80,110.94 L490.50,110.94 L491.20,111.55 L491.90,111.40 L492.60,111.61 L493.30,112.12 L494.00,111.76 L494.70,112.30 L495.40,113.43 L496.10,113.46 L496.80,113.28 L497.50,114.20 L498.20,115.06 L498.90,115.44 L499.60,116.41 L500.30,116.68 L501.00,117.22 L501.70,117.94 L502.40,118.19 L503.10,118.53 L503.80,118.57 L504.50,118.62 L505.20,118.10 L505.90,116.95 L506.60,115.87 L507.30,114.92 L508.00,113.56 L508.70,112.11 L509.40,111.15 L510.10,109.98 L510.80,108.84 L511.50,107.65 L512.20,107.01 L512.90,106.24 L513.60,104.41 L514.30,102.54 L515.00,101.45 L515.70,99.88 L516.40,97.39 L517.10,95.02 L517.80,92.40 L518.50,89.91 L519.20,87.24 L519.90,85.37 L520.60,83.64 L521.30,81.90 L522.00,80.66 L522.70,79.94 L523.40,79.31 L524.10,78.19 L524.80,78.12 L525.50,78.08 L526.20,77.13 L526.90,76.34 L527.60,75.97 L528.30,75.87 L529.00,76.05 L529.70,75.79 L530.40,75.58" fill="none" stroke="#a5a5a5" stroke-width="2.6" stroke-linejoin="round" stroke-linecap="round"/>
<path d="M305.00,92.11 L305.70,91.03 L306.40,91.10 L307.10,91.99 L307.80,89.74 L308.50,87.95 L309.20,88.13 L309.90,87.64 L310.60,86.55 L311.30,85.34 L312.00,84.39 L312.70,83.73 L313.40,83.13 L314.10,81.58 L314.80,80.47 L315.50,79.19 L316.20,77.23 L316.90,76.28 L317.60,75.70 L318.30,74.24 L319.00,73.29 L319.70,72.56 L320.40,70.74 L321.10,68.89 L321.80,68.34 L322.50,67.51 L323.20,65.14 L323.90,62.48 L324.60,60.49 L325.30,58.67 L326.00,56.56 L326.70,55.09 L327.40,53.66 L328.10,51.84 L328.80,50.92 L329.50,49.64 L330.20,48.06 L330.90,47.12 L331.60,46.20 L332.30,44.96 L333.00,43.93 L333.70,43.12 L334.40,42.86 L335.10,42.59 L335.80,41.37 L336.50,40.69 L337.20,40.59 L337.90,40.23 L338.60,40.05 L339.30,39.86 L340.00,38.98 L340.70,38.34 L341.40,37.90 L342.10,37.74 L342.80,37.84 L343.50,38.16 L344.20,37.94 L344.90,36.70 L345.60,36.34 L346.30,36.64 L347.00,36.35 L347.70,35.99 L348.40,36.04 L349.10,36.19 L349.80,36.13 L350.50,35.79 L351.20,35.95 L351.90,36.00 L352.60,35.72 L353.30,35.55 L354.00,35.50 L354.70,35.95 L355.40,35.79 L356.10,35.66 L356.80,36.19 L357.50,36.15 L358.20,36.08 L358.90,35.97 L359.60,36.23 L360.30,36.75 L361.00,36.57 L361.70,36.01 L362.40,35.80 L363.10,36.47 L363.80,37.17 L364.50,37.16 L365.20,37.21 L365.90,37.19 L366.60,37.06 L367.30,37.37 L368.00,37.68 L368.70,37.52 L369.40,37.81 L370.10,38.61 L370.80,38.37 L371.50,38.01 L372.20,38.55 L372.90,38.92 L373.60,38.57 L374.30,39.10 L375.00,39.86 L375.70,39.80 L376.40,40.42 L377.10,40.75 L377.80,40.33 L378.50,40.49 L379.20,40.59 L379.90,40.57 L380.60,41.02 L381.30,41.21 L382.00,41.18 L382.70,41.80 L383.40,42.23 L384.10,42.20 L384.80,42.29 L385.50,42.39 L386.20,42.77 L386.90,42.85 L387.60,43.14 L388.30,43.18 L389.00,42.97 L389.70,43.14 L390.40,43.40 L391.10,44.08 L391.80,44.75 L392.50,44.79 L393.20,44.78 L393.90,45.13 L394.60,45.26 L395.30,45.36 L396.00,45.80 L396.70,45.95 L397.40,46.22 L398.10,46.85 L398.80,46.94 L399.50,46.98 L400.20,47.08 L400.90,47.95 L401.60,48.21 L402.30,48.40 L403.00,49.07 L403.70,48.91 L404.40,48.79 L405.10,49.35 L405.80,50.20 L406.50,50.02 L407.20,49.83 L407.90,50.48 L408.60,50.84 L409.30,51.28 L410.00,51.33 L410.70,51.27 L411.40,51.38 L412.10,51.99 L412.80,52.39 L413.50,51.78 L414.20,52.24 L414.90,53.03 L415.60,53.84 L416.30,54.19 L417.00,54.20 L417.70,54.83 L418.40,55.62 L419.10,55.95 L419.80,56.32 L420.50,56.95 L421.20,57.19 L421.90,57.63 L422.60,58.26 L423.30,58.66 L424.00,59.58 L424.70,60.21 L425.40,60.96 L426.10,62.23 L426.80,62.74 L427.50,63.14 L428.20,63.86 L428.90,64.82 L429.60,65.67 L430.30,66.25 L431.00,66.90 L431.70,67.30 L432.40,67.71 L433.10,68.07 L433.80,68.76 L434.50,69.72 L435.20,70.09 L435.90,70.96 L436.60,71.84 L437.30,71.65 L438.00,72.20 L438.70,73.21 L439.40,74.21 L440.10,75.92 L440.80,76.63 L441.50,77.32 L442.20,78.69 L442.90,80.09 L443.60,81.58 L444.30,82.99 L445.00,83.73 L445.70,84.81 L446.40,85.81 L447.10,86.51 L447.80,87.95 L448.50,89.07 L449.20,89.72 L449.90,90.57 L450.60,91.87 L451.30,93.22 L452.00,94.76 L452.70,95.65 L453.40,96.58 L454.10,97.99 L454.80,99.01 L455.50,100.03 L456.20,101.39 L456.90,102.68 L457.60,103.92 L458.30,105.37 L459.00,107.01 L459.70,107.92 L460.40,109.19 L461.10,110.85 L461.80,111.83 L462.50,112.99 L463.20,113.96 L463.90,115.38 L464.60,116.90 L465.30,118.34 L466.00,119.38 L466.70,120.75 L467.40,122.25 L468.10,122.97 L468.80,123.77 L469.50,124.58 L470.20,125.37 L470.90,126.25 L471.60,127.31 L472.30,128.22 L473.00,128.77 L473.70,129.65 L474.40,130.73 L475.10,131.89 L475.80,133.64 L476.50,134.94 L477.20,135.69 L477.90,136.49 L478.60,137.55 L479.30,138.77 L480.00,140.32 L480.70,141.55 L481.40,142.45 L482.10,143.48 L482.80,144.40 L483.50,145.64 L484.20,146.13 L484.90,146.23 L485.60,146.54 L486.30,147.10 L487.00,147.31 L487.70,147.11 L488.40,147.22 L489.10,147.33 L489.80,147.85 L490.50,148.81 L491.20,148.61 L491.90,148.37 L492.60,148.74 L493.30,148.40 L494.00,148.38 L494.70,148.65 L495.40,148.64 L496.10,149.16 L496.80,148.96 L497.50,148.68 L498.20,149.19 L498.90,149.01 L499.60,148.99 L500.30,149.24 L501.00,148.94 L501.70,148.34 L502.40,147.80 L503.10,146.50 L503.80,145.81 L504.50,145.85 L505.20,144.84 L505.90,143.48 L506.60,141.70 L507.30,140.03 L508.00,138.60 L508.70,136.85 L509.40,135.44 L510.10,133.38 L510.80,130.94 L511.50,128.34 L512.20,125.85 L512.90,123.73 L513.60,121.03 L514.30,118.28 L515.00,116.13 L515.70,113.17 L516.40,109.60 L517.10,106.71 L517.80,104.24 L518.50,102.00 L519.20,99.11 L519.90,95.88 L520.60,92.95 L521.30,90.60 L522.00,87.99 L522.70,85.98 L523.40,84.99 L524.10,83.71 L524.80,82.74 L525.50,82.21 L526.20,81.81 L526.90,80.84 L527.60,80.13 L528.30,79.66 L529.00,78.64 L529.70,78.17 L530.40,77.74" fill="none" stroke="#d0245e" stroke-width="2.6" stroke-linejoin="round" stroke-linecap="round"/>
<path d="M305.00,103.48 L305.70,101.28 L306.40,100.12 L307.10,100.61 L307.80,100.89 L308.50,99.14 L309.20,97.40 L309.90,95.54 L310.60,93.64 L311.30,92.66 L312.00,90.96 L312.70,89.17 L313.40,88.34 L314.10,87.31 L314.80,85.58 L315.50,84.46 L316.20,83.32 L316.90,82.02 L317.60,80.54 L318.30,78.45 L319.00,76.64 L319.70,74.70 L320.40,72.41 L321.10,70.24 L321.80,68.51 L322.50,66.71 L323.20,64.70 L323.90,61.90 L324.60,59.26 L325.30,57.41 L326.00,55.46 L326.70,53.48 L327.40,51.44 L328.10,49.91 L328.80,48.30 L329.50,46.13 L330.20,44.76 L330.90,43.70 L331.60,41.75 L332.30,40.20 L333.00,38.66 L333.70,37.26 L334.40,35.96 L335.10,34.18 L335.80,32.89 L336.50,31.76 L337.20,30.86 L337.90,30.20 L338.60,29.37 L339.30,28.46 L340.00,26.95 L340.70,26.44 L341.40,26.22 L342.10,25.69 L342.80,25.85 L343.50,25.41 L344.20,24.70 L344.90,24.25 L345.60,23.97 L346.30,23.55 L347.00,23.13 L347.70,22.75 L348.40,22.85 L349.10,22.81 L349.80,22.55 L350.50,22.34 L351.20,22.04 L351.90,22.01 L352.60,22.10 L353.30,22.38 L354.00,22.44 L354.70,22.28 L355.40,22.24 L356.10,22.95 L356.80,23.29 L357.50,23.11 L358.20,23.73 L358.90,24.28 L359.60,24.32 L360.30,24.24 L361.00,24.88 L361.70,25.33 L362.40,25.24 L363.10,25.43 L363.80,25.34 L364.50,25.42 L365.20,26.15 L365.90,26.86 L366.60,27.07 L367.30,27.09 L368.00,27.18 L368.70,27.70 L369.40,28.06 L370.10,28.72 L370.80,29.69 L371.50,30.52 L372.20,30.88 L372.90,30.55 L373.60,30.54 L374.30,30.25 L375.00,30.56 L375.70,31.45 L376.40,31.94 L377.10,32.24 L377.80,32.28 L378.50,32.30 L379.20,32.42 L379.90,32.79 L380.60,32.54 L381.30,32.27 L382.00,32.35 L382.70,32.96 L383.40,33.72 L384.10,33.73 L384.80,33.41 L385.50,33.52 L386.20,33.97 L386.90,34.22 L387.60,34.53 L388.30,34.97 L389.00,35.32 L389.70,35.82 L390.40,36.41 L391.10,36.65 L391.80,37.08 L392.50,37.58 L393.20,38.31 L393.90,38.89 L394.60,39.33 L395.30,39.85 L396.00,40.01 L396.70,40.84 L397.40,41.52 L398.10,42.08 L398.80,43.03 L399.50,43.17 L400.20,43.54 L400.90,44.43 L401.60,45.10 L402.30,45.59 L403.00,46.53 L403.70,47.31 L404.40,47.79 L405.10,48.27 L405.80,48.73 L406.50,49.11 L407.20,49.47 L407.90,50.16 L408.60,50.58 L409.30,50.76 L410.00,50.92 L410.70,51.47 L411.40,52.20 L412.10,52.57 L412.80,52.82 L413.50,53.52 L414.20,54.77 L414.90,55.18 L415.60,55.35 L416.30,56.14 L417.00,56.22 L417.70,56.90 L418.40,58.08 L419.10,59.19 L419.80,60.18 L420.50,60.70 L421.20,61.90 L421.90,63.47 L422.60,64.85 L423.30,66.21 L424.00,67.34 L424.70,68.57 L425.40,70.27 L426.10,71.96 L426.80,73.17 L427.50,74.03 L428.20,75.35 L428.90,76.74 L429.60,78.09 L430.30,79.37 L431.00,80.26 L431.70,81.37 L432.40,82.71 L433.10,83.98 L433.80,85.23 L434.50,86.22 L435.20,86.91 L435.90,88.07 L436.60,89.15 L437.30,90.32 L438.00,91.73 L438.70,92.35 L439.40,93.51 L440.10,95.13 L440.80,96.18 L441.50,97.60 L442.20,99.30 L442.90,100.07 L443.60,101.31 L444.30,103.12 L445.00,104.46 L445.70,106.05 L446.40,107.28 L447.10,108.42 L447.80,109.84 L448.50,111.20 L449.20,112.73 L449.90,113.94 L450.60,115.08 L451.30,116.85 L452.00,118.40 L452.70,119.71 L453.40,120.69 L454.10,121.83 L454.80,123.53 L455.50,125.16 L456.20,126.65 L456.90,128.46 L457.60,130.27 L458.30,131.79 L459.00,133.46 L459.70,135.12 L460.40,136.34 L461.10,137.62 L461.80,138.93 L462.50,139.79 L463.20,140.78 L463.90,141.98 L464.60,143.33 L465.30,144.58 L466.00,145.61 L466.70,146.76 L467.40,147.88 L468.10,149.16 L468.80,150.36 L469.50,150.85 L470.20,152.26 L470.90,153.76 L471.60,154.22 L472.30,155.11 L473.00,156.11 L473.70,157.53 L474.40,158.78 L475.10,158.99 L475.80,160.03 L476.50,161.35 L477.20,162.72 L477.90,163.64 L478.60,163.78 L479.30,164.98 L480.00,166.26 L480.70,166.98 L481.40,167.41 L482.10,168.34 L482.80,169.84 L483.50,169.93 L484.20,170.32 L484.90,171.09 L485.60,171.80 L486.30,172.42 L487.00,172.17 L487.70,172.46 L488.40,172.51 L489.10,171.69 L489.80,171.02 L490.50,170.20 L491.20,168.83 L491.90,168.65 L492.60,168.33 L493.30,167.16 L494.00,166.70 L494.70,165.86 L495.40,164.82 L496.10,164.29 L496.80,163.59 L497.50,162.76 L498.20,162.13 L498.90,161.06 L499.60,160.04 L500.30,159.50 L501.00,158.51 L501.70,157.81 L502.40,157.20 L503.10,156.65 L503.80,156.08 L504.50,154.86 L505.20,153.36 L505.90,152.16 L506.60,150.94 L507.30,149.62 L508.00,148.21 L508.70,146.23 L509.40,144.63 L510.10,142.86 L510.80,140.20 L511.50,137.77 L512.20,135.16 L512.90,132.09 L513.60,129.37 L514.30,126.46 L515.00,123.37 L515.70,120.34 L516.40,117.49 L517.10,114.51 L517.80,110.78 L518.50,107.49 L519.20,104.32 L519.90,100.80 L520.60,97.39 L521.30,93.72 L522.00,90.71 L522.70,88.02 L523.40,85.59 L524.10,84.93 L524.80,84.42 L525.50,83.54 L526.20,82.52 L526.90,82.30 L527.60,82.52 L528.30,81.85 L529.00,81.25 L529.70,80.80 L530.40,79.94" fill="none" stroke="#7d0a36" stroke-width="2.6" stroke-linejoin="round" stroke-linecap="round"/>
<g fill="#0a0a0a"><circle cx="43.29" cy="251.78" r="2.4"/><circle cx="44.82" cy="252.56" r="2.4"/><circle cx="46.99" cy="251.29" r="2.4"/><circle cx="49.48" cy="253.14" r="2.4"/><circle cx="51.33" cy="252.24" r="2.4"/><circle cx="52.85" cy="250.98" r="2.4"/><circle cx="55.42" cy="251.54" r="2.4"/><circle cx="57.31" cy="252.00" r="2.4"/><circle cx="59.16" cy="250.82" r="2.4"/><circle cx="61.60" cy="252.89" r="2.4"/><circle cx="63.39" cy="252.55" r="2.4"/><circle cx="65.09" cy="254.30" r="2.4"/><circle cx="67.28" cy="256.73" r="2.4"/><circle cx="70.22" cy="259.17" r="2.4"/><circle cx="71.26" cy="261.85" r="2.4"/><circle cx="73.85" cy="263.72" r="2.4"/><circle cx="76.02" cy="270.25" r="2.4"/><circle cx="78.08" cy="272.44" r="2.4"/><circle cx="79.55" cy="278.00" r="2.4"/><circle cx="81.88" cy="281.15" r="2.4"/><circle cx="84.08" cy="286.48" r="2.4"/><circle cx="86.33" cy="290.53" r="2.4"/><circle cx="87.94" cy="292.38" r="2.4"/><circle cx="89.83" cy="295.30" r="2.4"/><circle cx="92.55" cy="300.19" r="2.4"/><circle cx="94.63" cy="300.11" r="2.4"/><circle cx="96.46" cy="303.15" r="2.4"/><circle cx="98.21" cy="303.57" r="2.4"/><circle cx="100.58" cy="304.76" r="2.4"/><circle cx="102.54" cy="305.65" r="2.4"/><circle cx="104.81" cy="308.85" r="2.4"/><circle cx="106.22" cy="306.79" r="2.4"/><circle cx="108.69" cy="308.95" r="2.4"/><circle cx="110.66" cy="310.73" r="2.4"/><circle cx="112.42" cy="312.03" r="2.4"/><circle cx="114.88" cy="313.63" r="2.4"/><circle cx="116.88" cy="314.18" r="2.4"/><circle cx="118.79" cy="313.37" r="2.4"/><circle cx="121.09" cy="314.98" r="2.4"/><circle cx="122.58" cy="316.16" r="2.4"/><circle cx="125.05" cy="316.49" r="2.4"/><circle cx="127.26" cy="315.42" r="2.4"/><circle cx="129.26" cy="317.50" r="2.4"/><circle cx="131.56" cy="318.24" r="2.4"/><circle cx="132.91" cy="316.94" r="2.4"/><circle cx="134.87" cy="318.06" r="2.4"/><circle cx="137.46" cy="318.87" r="2.4"/><circle cx="139.57" cy="319.77" r="2.4"/><circle cx="142.14" cy="320.96" r="2.4"/><circle cx="143.73" cy="320.90" r="2.4"/><circle cx="145.32" cy="320.59" r="2.4"/><circle cx="147.89" cy="320.78" r="2.4"/><circle cx="149.43" cy="320.54" r="2.4"/><circle cx="151.29" cy="320.65" r="2.4"/><circle cx="154.60" cy="321.38" r="2.4"/><circle cx="155.95" cy="321.55" r="2.4"/><circle cx="158.12" cy="322.82" r="2.4"/><circle cx="160.13" cy="323.97" r="2.4"/><circle cx="162.56" cy="322.84" r="2.4"/><circle cx="164.14" cy="323.31" r="2.4"/><circle cx="166.48" cy="323.22" r="2.4"/><circle cx="167.84" cy="322.99" r="2.4"/><circle cx="169.78" cy="323.91" r="2.4"/><circle cx="172.70" cy="323.97" r="2.4"/><circle cx="174.77" cy="323.25" r="2.4"/><circle cx="176.52" cy="323.16" r="2.4"/><circle cx="178.49" cy="323.89" r="2.4"/><circle cx="180.52" cy="323.04" r="2.4"/><circle cx="182.31" cy="323.71" r="2.4"/><circle cx="185.05" cy="324.48" r="2.4"/><circle cx="186.83" cy="323.68" r="2.4"/><circle cx="188.83" cy="322.23" r="2.4"/><circle cx="190.84" cy="324.41" r="2.4"/><circle cx="193.10" cy="322.97" r="2.4"/><circle cx="194.99" cy="322.86" r="2.4"/><circle cx="197.11" cy="322.82" r="2.4"/><circle cx="198.58" cy="324.78" r="2.4"/><circle cx="201.14" cy="322.52" r="2.4"/><circle cx="203.71" cy="324.16" r="2.4"/><circle cx="204.93" cy="324.50" r="2.4"/><circle cx="207.10" cy="324.54" r="2.4"/><circle cx="209.47" cy="323.92" r="2.4"/><circle cx="211.54" cy="324.43" r="2.4"/><circle cx="213.49" cy="324.68" r="2.4"/><circle cx="214.85" cy="323.51" r="2.4"/><circle cx="217.56" cy="325.24" r="2.4"/><circle cx="219.09" cy="325.55" r="2.4"/><circle cx="221.25" cy="324.09" r="2.4"/><circle cx="223.73" cy="324.23" r="2.4"/><circle cx="225.52" cy="323.95" r="2.4"/><circle cx="227.91" cy="325.80" r="2.4"/><circle cx="230.68" cy="324.09" r="2.4"/><circle cx="232.00" cy="324.62" r="2.4"/><circle cx="234.04" cy="323.61" r="2.4"/><circle cx="235.59" cy="326.12" r="2.4"/><circle cx="237.72" cy="324.96" r="2.4"/><circle cx="239.64" cy="325.41" r="2.4"/><circle cx="241.86" cy="326.54" r="2.4"/><circle cx="243.74" cy="325.85" r="2.4"/><circle cx="245.92" cy="324.38" r="2.4"/><circle cx="248.11" cy="325.73" r="2.4"/><circle cx="249.92" cy="325.97" r="2.4"/><circle cx="251.85" cy="324.69" r="2.4"/><circle cx="253.91" cy="324.62" r="2.4"/><circle cx="256.53" cy="324.66" r="2.4"/><circle cx="258.46" cy="326.14" r="2.4"/><circle cx="260.81" cy="325.57" r="2.4"/><circle cx="262.86" cy="324.69" r="2.4"/><circle cx="264.49" cy="326.09" r="2.4"/><circle cx="266.85" cy="326.19" r="2.4"/><circle cx="268.25" cy="324.89" r="2.4"/><circle cx="271.45" cy="324.30" r="2.4"/><circle cx="272.80" cy="326.54" r="2.4"/></g>
<path d="M43.00,251.60 L43.58,251.60 L44.15,251.60 L44.73,251.60 L45.30,251.60 L45.88,251.60 L46.46,251.60 L47.03,251.60 L47.61,251.60 L48.18,251.60 L48.76,251.60 L49.34,251.60 L49.91,251.60 L50.49,251.60 L51.06,251.60 L51.64,251.60 L52.22,251.60 L52.79,251.60 L53.37,251.60 L53.94,251.60 L54.52,251.60 L55.09,251.60 L55.67,251.60 L56.25,251.60 L56.82,251.60 L57.40,251.60 L57.97,251.60 L58.55,251.60 L59.13,251.60 L59.70,251.61 L60.28,251.68 L60.85,251.80 L61.43,251.98 L62.01,252.19 L62.58,252.42 L63.16,252.67 L63.73,252.94 L64.31,253.29 L64.89,253.72 L65.46,254.22 L66.04,254.77 L66.61,255.35 L67.19,255.94 L67.77,256.55 L68.34,257.19 L68.92,257.88 L69.49,258.60 L70.07,259.36 L70.65,260.15 L71.22,260.98 L71.80,261.84 L72.37,262.73 L72.95,263.67 L73.52,264.69 L74.10,265.78 L74.68,266.94 L75.25,268.14 L75.83,269.36 L76.40,270.60 L76.98,271.82 L77.56,273.03 L78.13,274.19 L78.71,275.37 L79.28,276.55 L79.86,277.72 L80.44,278.88 L81.01,280.01 L81.59,281.10 L82.16,282.16 L82.74,283.18 L83.32,284.18 L83.89,285.17 L84.47,286.16 L85.04,287.15 L85.62,288.15 L86.20,289.17 L86.77,290.25 L87.35,291.36 L87.92,292.48 L88.50,293.58 L89.08,294.62 L89.65,295.58 L90.23,296.42 L90.80,297.16 L91.38,297.85 L91.95,298.50 L92.53,299.12 L93.11,299.70 L93.68,300.24 L94.26,300.76 L94.83,301.25 L95.41,301.71 L95.99,302.15 L96.56,302.57 L97.14,302.97 L97.71,303.35 L98.29,303.72 L98.87,304.08 L99.44,304.42 L100.02,304.76 L100.59,305.08 L101.17,305.40 L101.75,305.72 L102.32,306.03 L102.90,306.33 L103.47,306.64 L104.05,306.95 L104.63,307.27 L105.20,307.58 L105.78,307.89 L106.35,308.20 L106.93,308.50 L107.51,308.80 L108.08,309.10 L108.66,309.39 L109.23,309.68 L109.81,309.97 L110.38,310.25 L110.96,310.52 L111.54,310.79 L112.11,311.05 L112.69,311.31 L113.26,311.56 L113.84,311.80 L114.42,312.04 L114.99,312.28 L115.57,312.52 L116.14,312.76 L116.72,312.99 L117.30,313.23 L117.87,313.46 L118.45,313.69 L119.02,313.91 L119.60,314.14 L120.18,314.35 L120.75,314.57 L121.33,314.78 L121.90,314.99 L122.48,315.20 L123.06,315.40 L123.63,315.59 L124.21,315.78 L124.78,315.97 L125.36,316.15 L125.94,316.33 L126.51,316.50 L127.09,316.66 L127.66,316.82 L128.24,316.97 L128.82,317.12 L129.39,317.26 L129.97,317.40 L130.54,317.53 L131.12,317.66 L131.69,317.79 L132.27,317.91 L132.85,318.04 L133.42,318.15 L134.00,318.27 L134.57,318.38 L135.15,318.49 L135.73,318.60 L136.30,318.70 L136.88,318.81 L137.45,318.91 L138.03,319.01 L138.61,319.11 L139.18,319.20 L139.76,319.30 L140.33,319.39 L140.91,319.49 L141.49,319.58 L142.06,319.67 L142.64,319.76 L143.21,319.86 L143.79,319.95 L144.37,320.04 L144.94,320.13 L145.52,320.22 L146.09,320.32 L146.67,320.41 L147.25,320.50 L147.82,320.59 L148.40,320.67 L148.97,320.76 L149.55,320.85 L150.12,320.93 L150.70,321.02 L151.28,321.10 L151.85,321.19 L152.43,321.27 L153.00,321.35 L153.58,321.43 L154.16,321.50 L154.73,321.58 L155.31,321.65 L155.88,321.73 L156.46,321.80 L157.04,321.86 L157.61,321.93 L158.19,321.99 L158.76,322.06 L159.34,322.12 L159.92,322.17 L160.49,322.23 L161.07,322.28 L161.64,322.33 L162.22,322.38 L162.80,322.43 L163.37,322.47 L163.95,322.51 L164.52,322.55 L165.10,322.59 L165.68,322.63 L166.25,322.67 L166.83,322.70 L167.40,322.74 L167.98,322.78 L168.55,322.81 L169.13,322.85 L169.71,322.88 L170.28,322.92 L170.86,322.95 L171.43,322.98 L172.01,323.02 L172.59,323.05 L173.16,323.08 L173.74,323.11 L174.31,323.14 L174.89,323.17 L175.47,323.20 L176.04,323.23 L176.62,323.26 L177.19,323.29 L177.77,323.32 L178.35,323.35 L178.92,323.37 L179.50,323.40 L180.07,323.43 L180.65,323.45 L181.23,323.48 L181.80,323.50 L182.38,323.53 L182.95,323.55 L183.53,323.58 L184.11,323.60 L184.68,323.62 L185.26,323.65 L185.83,323.67 L186.41,323.69 L186.98,323.71 L187.56,323.74 L188.14,323.76 L188.71,323.78 L189.29,323.80 L189.86,323.82 L190.44,323.84 L191.02,323.86 L191.59,323.88 L192.17,323.90 L192.74,323.92 L193.32,323.94 L193.90,323.96 L194.47,323.98 L195.05,323.99 L195.62,324.01 L196.20,324.03 L196.78,324.05 L197.35,324.06 L197.93,324.08 L198.50,324.10 L199.08,324.12 L199.66,324.13 L200.23,324.15 L200.81,324.17 L201.38,324.18 L201.96,324.20 L202.54,324.22 L203.11,324.23 L203.69,324.25 L204.26,324.27 L204.84,324.28 L205.42,324.30 L205.99,324.32 L206.57,324.33 L207.14,324.35 L207.72,324.37 L208.29,324.38 L208.87,324.40 L209.45,324.42 L210.02,324.43 L210.60,324.45 L211.17,324.47 L211.75,324.48 L212.33,324.50 L212.90,324.52 L213.48,324.53 L214.05,324.55 L214.63,324.56 L215.21,324.58 L215.78,324.60 L216.36,324.61 L216.93,324.63 L217.51,324.64 L218.09,324.66 L218.66,324.67 L219.24,324.69 L219.81,324.71 L220.39,324.72 L220.97,324.74 L221.54,324.75 L222.12,324.77 L222.69,324.78 L223.27,324.80 L223.85,324.81 L224.42,324.83 L225.00,324.84 L225.57,324.86 L226.15,324.87 L226.72,324.89 L227.30,324.90 L227.88,324.91 L228.45,324.93 L229.03,324.94 L229.60,324.96 L230.18,324.97 L230.76,324.98 L231.33,325.00 L231.91,325.01 L232.48,325.03 L233.06,325.04 L233.64,325.05 L234.21,325.07 L234.79,325.08 L235.36,325.09 L235.94,325.10 L236.52,325.12 L237.09,325.13 L237.67,325.14 L238.24,325.15 L238.82,325.17 L239.40,325.18 L239.97,325.19 L240.55,325.20 L241.12,325.21 L241.70,325.23 L242.28,325.24 L242.85,325.25 L243.43,325.26 L244.00,325.27 L244.58,325.28 L245.15,325.29 L245.73,325.30 L246.31,325.31 L246.88,325.32 L247.46,325.33 L248.03,325.34 L248.61,325.35 L249.19,325.36 L249.76,325.37 L250.34,325.38 L250.91,325.39 L251.49,325.40 L252.07,325.41 L252.64,325.42 L253.22,325.42 L253.79,325.43 L254.37,325.44 L254.95,325.45 L255.52,325.46 L256.10,325.46 L256.67,325.47 L257.25,325.48 L257.83,325.49 L258.40,325.49 L258.98,325.50 L259.55,325.50 L260.13,325.51 L260.71,325.52 L261.28,325.52 L261.86,325.53 L262.43,325.53 L263.01,325.54 L263.58,325.54 L264.16,325.55 L264.74,325.55 L265.31,325.56 L265.89,325.56 L266.46,325.57 L267.04,325.57 L267.62,325.57 L268.19,325.58 L268.77,325.58 L269.34,325.58 L269.92,325.59 L270.50,325.59 L271.07,325.59 L271.65,325.59 L272.22,325.59 L272.80,325.60" fill="none" stroke="#d0d0d0" stroke-width="1.0"/>
<g fill="#aaaaaa"><circle cx="43.00" cy="251.64" r="2.4"/><circle cx="44.61" cy="250.89" r="2.4"/><circle cx="46.79" cy="252.05" r="2.4"/><circle cx="49.11" cy="252.02" r="2.4"/><circle cx="51.40" cy="252.55" r="2.4"/><circle cx="53.21" cy="251.12" r="2.4"/><circle cx="55.10" cy="250.83" r="2.4"/><circle cx="57.41" cy="249.85" r="2.4"/><circle cx="59.12" cy="250.54" r="2.4"/><circle cx="61.45" cy="252.06" r="2.4"/><circle cx="63.32" cy="253.70" r="2.4"/><circle cx="66.39" cy="256.30" r="2.4"/><circle cx="67.87" cy="258.59" r="2.4"/><circle cx="69.42" cy="259.67" r="2.4"/><circle cx="71.42" cy="263.52" r="2.4"/><circle cx="73.64" cy="269.28" r="2.4"/><circle cx="75.32" cy="272.76" r="2.4"/><circle cx="77.66" cy="277.05" r="2.4"/><circle cx="79.70" cy="284.09" r="2.4"/><circle cx="82.26" cy="291.91" r="2.4"/><circle cx="83.90" cy="294.73" r="2.4"/><circle cx="85.84" cy="300.84" r="2.4"/><circle cx="87.73" cy="305.63" r="2.4"/><circle cx="89.83" cy="310.07" r="2.4"/><circle cx="92.22" cy="315.30" r="2.4"/><circle cx="94.23" cy="315.69" r="2.4"/><circle cx="96.70" cy="320.14" r="2.4"/><circle cx="98.20" cy="321.08" r="2.4"/><circle cx="100.78" cy="323.51" r="2.4"/><circle cx="102.58" cy="323.85" r="2.4"/><circle cx="104.55" cy="326.15" r="2.4"/><circle cx="105.99" cy="327.21" r="2.4"/><circle cx="108.26" cy="330.19" r="2.4"/><circle cx="110.94" cy="330.35" r="2.4"/><circle cx="113.19" cy="332.53" r="2.4"/><circle cx="114.88" cy="331.78" r="2.4"/><circle cx="117.10" cy="332.60" r="2.4"/><circle cx="118.79" cy="333.53" r="2.4"/><circle cx="120.85" cy="332.53" r="2.4"/><circle cx="122.82" cy="334.39" r="2.4"/><circle cx="125.37" cy="335.08" r="2.4"/><circle cx="127.23" cy="335.96" r="2.4"/><circle cx="129.10" cy="336.72" r="2.4"/><circle cx="131.13" cy="336.27" r="2.4"/><circle cx="133.45" cy="336.73" r="2.4"/><circle cx="135.43" cy="339.19" r="2.4"/><circle cx="137.13" cy="337.65" r="2.4"/><circle cx="139.96" cy="338.73" r="2.4"/><circle cx="141.56" cy="338.72" r="2.4"/><circle cx="143.54" cy="339.54" r="2.4"/><circle cx="146.04" cy="341.46" r="2.4"/><circle cx="147.96" cy="341.77" r="2.4"/><circle cx="149.67" cy="339.61" r="2.4"/><circle cx="151.91" cy="341.30" r="2.4"/><circle cx="153.47" cy="342.93" r="2.4"/><circle cx="155.65" cy="341.81" r="2.4"/><circle cx="157.20" cy="342.62" r="2.4"/><circle cx="160.33" cy="344.25" r="2.4"/><circle cx="161.42" cy="344.75" r="2.4"/><circle cx="164.27" cy="344.48" r="2.4"/><circle cx="165.85" cy="343.09" r="2.4"/><circle cx="167.86" cy="343.55" r="2.4"/><circle cx="170.15" cy="343.93" r="2.4"/><circle cx="172.34" cy="343.69" r="2.4"/><circle cx="174.50" cy="343.61" r="2.4"/><circle cx="176.91" cy="346.04" r="2.4"/><circle cx="178.53" cy="344.68" r="2.4"/><circle cx="180.74" cy="345.28" r="2.4"/><circle cx="182.34" cy="345.73" r="2.4"/><circle cx="184.79" cy="345.32" r="2.4"/><circle cx="186.67" cy="345.09" r="2.4"/><circle cx="188.53" cy="345.31" r="2.4"/><circle cx="190.70" cy="346.41" r="2.4"/><circle cx="192.76" cy="345.70" r="2.4"/><circle cx="194.89" cy="343.74" r="2.4"/><circle cx="197.01" cy="346.34" r="2.4"/><circle cx="198.78" cy="346.92" r="2.4"/><circle cx="200.76" cy="345.36" r="2.4"/><circle cx="203.27" cy="345.17" r="2.4"/><circle cx="204.57" cy="345.31" r="2.4"/><circle cx="206.95" cy="346.68" r="2.4"/><circle cx="209.67" cy="345.01" r="2.4"/><circle cx="210.41" cy="346.50" r="2.4"/><circle cx="213.08" cy="346.86" r="2.4"/><circle cx="215.56" cy="346.49" r="2.4"/><circle cx="216.89" cy="346.11" r="2.4"/><circle cx="220.25" cy="345.51" r="2.4"/><circle cx="220.71" cy="345.60" r="2.4"/><circle cx="224.00" cy="346.20" r="2.4"/><circle cx="226.09" cy="345.46" r="2.4"/><circle cx="227.94" cy="346.20" r="2.4"/><circle cx="229.64" cy="345.57" r="2.4"/><circle cx="231.87" cy="347.50" r="2.4"/><circle cx="233.54" cy="347.68" r="2.4"/><circle cx="236.12" cy="345.79" r="2.4"/><circle cx="237.57" cy="347.60" r="2.4"/><circle cx="239.89" cy="346.74" r="2.4"/><circle cx="242.33" cy="346.61" r="2.4"/><circle cx="243.73" cy="346.95" r="2.4"/><circle cx="246.01" cy="346.96" r="2.4"/><circle cx="248.23" cy="345.46" r="2.4"/><circle cx="249.82" cy="348.71" r="2.4"/><circle cx="252.64" cy="345.93" r="2.4"/><circle cx="254.44" cy="344.79" r="2.4"/><circle cx="255.92" cy="346.67" r="2.4"/><circle cx="258.42" cy="346.73" r="2.4"/><circle cx="260.25" cy="346.13" r="2.4"/><circle cx="262.34" cy="345.23" r="2.4"/><circle cx="264.62" cy="347.73" r="2.4"/><circle cx="266.43" cy="346.69" r="2.4"/><circle cx="268.99" cy="346.92" r="2.4"/><circle cx="270.53" cy="346.31" r="2.4"/><circle cx="272.80" cy="346.64" r="2.4"/></g>
<path d="M43.00,251.60 L43.58,251.60 L44.15,251.60 L44.73,251.60 L45.30,251.60 L45.88,251.60 L46.46,251.60 L47.03,251.60 L47.61,251.60 L48.18,251.60 L48.76,251.60 L49.34,251.60 L49.91,251.60 L50.49,251.60 L51.06,251.60 L51.64,251.60 L52.22,251.60 L52.79,251.60 L53.37,251.60 L53.94,251.60 L54.52,251.60 L55.09,251.60 L55.67,251.60 L56.25,251.60 L56.82,251.60 L57.40,251.60 L57.97,251.60 L58.55,251.60 L59.13,251.60 L59.70,251.62 L60.28,251.74 L60.85,251.96 L61.43,252.25 L62.01,252.61 L62.58,253.00 L63.16,253.41 L63.73,253.82 L64.31,254.30 L64.89,254.86 L65.46,255.49 L66.04,256.18 L66.61,256.90 L67.19,257.64 L67.77,258.42 L68.34,259.23 L68.92,260.09 L69.49,261.00 L70.07,261.94 L70.65,262.92 L71.22,263.94 L71.80,265.00 L72.37,266.09 L72.95,267.20 L73.52,268.35 L74.10,269.53 L74.68,270.74 L75.25,272.03 L75.83,273.41 L76.40,274.86 L76.98,276.37 L77.56,277.91 L78.13,279.50 L78.71,281.20 L79.28,283.00 L79.86,284.84 L80.44,286.65 L81.01,288.38 L81.59,289.99 L82.16,291.48 L82.74,292.91 L83.32,294.30 L83.89,295.67 L84.47,297.05 L85.04,298.46 L85.62,299.93 L86.20,301.46 L86.77,302.98 L87.35,304.47 L87.92,305.86 L88.50,307.12 L89.08,308.26 L89.65,309.36 L90.23,310.41 L90.80,311.41 L91.38,312.37 L91.95,313.28 L92.53,314.14 L93.11,314.96 L93.68,315.72 L94.26,316.44 L94.83,317.12 L95.41,317.78 L95.99,318.40 L96.56,319.01 L97.14,319.59 L97.71,320.15 L98.29,320.69 L98.87,321.22 L99.44,321.73 L100.02,322.24 L100.59,322.74 L101.17,323.24 L101.75,323.73 L102.32,324.23 L102.90,324.72 L103.47,325.20 L104.05,325.68 L104.63,326.15 L105.20,326.61 L105.78,327.06 L106.35,327.49 L106.93,327.91 L107.51,328.31 L108.08,328.70 L108.66,329.06 L109.23,329.40 L109.81,329.71 L110.38,330.00 L110.96,330.29 L111.54,330.56 L112.11,330.83 L112.69,331.09 L113.26,331.35 L113.84,331.60 L114.42,331.84 L114.99,332.08 L115.57,332.31 L116.14,332.54 L116.72,332.76 L117.30,332.98 L117.87,333.19 L118.45,333.40 L119.02,333.60 L119.60,333.80 L120.18,333.99 L120.75,334.18 L121.33,334.36 L121.90,334.55 L122.48,334.72 L123.06,334.90 L123.63,335.07 L124.21,335.24 L124.78,335.40 L125.36,335.56 L125.94,335.72 L126.51,335.88 L127.09,336.04 L127.66,336.19 L128.24,336.34 L128.82,336.48 L129.39,336.63 L129.97,336.78 L130.54,336.92 L131.12,337.07 L131.69,337.21 L132.27,337.35 L132.85,337.49 L133.42,337.63 L134.00,337.77 L134.57,337.91 L135.15,338.05 L135.73,338.19 L136.30,338.32 L136.88,338.46 L137.45,338.59 L138.03,338.72 L138.61,338.85 L139.18,338.98 L139.76,339.11 L140.33,339.24 L140.91,339.37 L141.49,339.49 L142.06,339.61 L142.64,339.74 L143.21,339.86 L143.79,339.98 L144.37,340.10 L144.94,340.21 L145.52,340.33 L146.09,340.44 L146.67,340.55 L147.25,340.66 L147.82,340.77 L148.40,340.88 L148.97,340.99 L149.55,341.09 L150.12,341.20 L150.70,341.30 L151.28,341.40 L151.85,341.50 L152.43,341.59 L153.00,341.69 L153.58,341.78 L154.16,341.87 L154.73,341.96 L155.31,342.05 L155.88,342.13 L156.46,342.22 L157.04,342.30 L157.61,342.38 L158.19,342.46 L158.76,342.53 L159.34,342.61 L159.92,342.68 L160.49,342.75 L161.07,342.82 L161.64,342.88 L162.22,342.95 L162.80,343.01 L163.37,343.07 L163.95,343.13 L164.52,343.19 L165.10,343.24 L165.68,343.30 L166.25,343.36 L166.83,343.41 L167.40,343.47 L167.98,343.52 L168.55,343.58 L169.13,343.63 L169.71,343.69 L170.28,343.74 L170.86,343.79 L171.43,343.84 L172.01,343.89 L172.59,343.94 L173.16,343.99 L173.74,344.04 L174.31,344.09 L174.89,344.14 L175.47,344.19 L176.04,344.24 L176.62,344.28 L177.19,344.33 L177.77,344.37 L178.35,344.42 L178.92,344.46 L179.50,344.51 L180.07,344.55 L180.65,344.59 L181.23,344.63 L181.80,344.67 L182.38,344.71 L182.95,344.75 L183.53,344.79 L184.11,344.83 L184.68,344.87 L185.26,344.90 L185.83,344.94 L186.41,344.97 L186.98,345.01 L187.56,345.04 L188.14,345.07 L188.71,345.10 L189.29,345.14 L189.86,345.17 L190.44,345.20 L191.02,345.22 L191.59,345.25 L192.17,345.28 L192.74,345.31 L193.32,345.33 L193.90,345.36 L194.47,345.38 L195.05,345.40 L195.62,345.43 L196.20,345.45 L196.78,345.47 L197.35,345.49 L197.93,345.51 L198.50,345.52 L199.08,345.54 L199.66,345.56 L200.23,345.57 L200.81,345.59 L201.38,345.61 L201.96,345.62 L202.54,345.64 L203.11,345.66 L203.69,345.67 L204.26,345.69 L204.84,345.70 L205.42,345.72 L205.99,345.74 L206.57,345.75 L207.14,345.77 L207.72,345.78 L208.29,345.80 L208.87,345.81 L209.45,345.83 L210.02,345.84 L210.60,345.86 L211.17,345.87 L211.75,345.89 L212.33,345.90 L212.90,345.92 L213.48,345.93 L214.05,345.95 L214.63,345.96 L215.21,345.98 L215.78,345.99 L216.36,346.01 L216.93,346.02 L217.51,346.03 L218.09,346.05 L218.66,346.06 L219.24,346.07 L219.81,346.09 L220.39,346.10 L220.97,346.12 L221.54,346.13 L222.12,346.14 L222.69,346.15 L223.27,346.17 L223.85,346.18 L224.42,346.19 L225.00,346.21 L225.57,346.22 L226.15,346.23 L226.72,346.24 L227.30,346.26 L227.88,346.27 L228.45,346.28 L229.03,346.29 L229.60,346.30 L230.18,346.31 L230.76,346.33 L231.33,346.34 L231.91,346.35 L232.48,346.36 L233.06,346.37 L233.64,346.38 L234.21,346.39 L234.79,346.40 L235.36,346.41 L235.94,346.42 L236.52,346.43 L237.09,346.44 L237.67,346.45 L238.24,346.46 L238.82,346.47 L239.40,346.48 L239.97,346.49 L240.55,346.50 L241.12,346.51 L241.70,346.52 L242.28,346.53 L242.85,346.54 L243.43,346.55 L244.00,346.55 L244.58,346.56 L245.15,346.57 L245.73,346.58 L246.31,346.59 L246.88,346.59 L247.46,346.60 L248.03,346.61 L248.61,346.62 L249.19,346.62 L249.76,346.63 L250.34,346.64 L250.91,346.64 L251.49,346.65 L252.07,346.66 L252.64,346.66 L253.22,346.67 L253.79,346.67 L254.37,346.68 L254.95,346.69 L255.52,346.69 L256.10,346.70 L256.67,346.70 L257.25,346.71 L257.83,346.71 L258.40,346.72 L258.98,346.72 L259.55,346.72 L260.13,346.73 L260.71,346.73 L261.28,346.74 L261.86,346.74 L262.43,346.74 L263.01,346.75 L263.58,346.75 L264.16,346.75 L264.74,346.75 L265.31,346.76 L265.89,346.76 L266.46,346.76 L267.04,346.76 L267.62,346.76 L268.19,346.77 L268.77,346.77 L269.34,346.77 L269.92,346.77 L270.50,346.77 L271.07,346.77 L271.65,346.77 L272.22,346.77 L272.80,346.77" fill="none" stroke="#e4e4e4" stroke-width="1.0"/>
<g fill="#c02a6c"><circle cx="43.20" cy="250.69" r="2.4"/><circle cx="44.92" cy="251.54" r="2.4"/><circle cx="47.12" cy="251.16" r="2.4"/><circle cx="48.95" cy="251.92" r="2.4"/><circle cx="51.00" cy="253.00" r="2.4"/><circle cx="53.22" cy="252.59" r="2.4"/><circle cx="55.27" cy="250.84" r="2.4"/><circle cx="57.00" cy="251.16" r="2.4"/><circle cx="59.90" cy="252.02" r="2.4"/><circle cx="61.42" cy="256.56" r="2.4"/><circle cx="63.09" cy="260.67" r="2.4"/><circle cx="65.91" cy="267.10" r="2.4"/><circle cx="67.39" cy="271.15" r="2.4"/><circle cx="69.83" cy="280.13" r="2.4"/><circle cx="71.72" cy="285.41" r="2.4"/><circle cx="73.85" cy="291.29" r="2.4"/><circle cx="75.88" cy="298.40" r="2.4"/><circle cx="77.70" cy="302.49" r="2.4"/><circle cx="79.94" cy="309.06" r="2.4"/><circle cx="82.61" cy="320.99" r="2.4"/><circle cx="83.35" cy="320.86" r="2.4"/><circle cx="86.11" cy="328.46" r="2.4"/><circle cx="88.27" cy="333.11" r="2.4"/><circle cx="89.87" cy="337.99" r="2.4"/><circle cx="91.82" cy="345.46" r="2.4"/><circle cx="94.96" cy="355.14" r="2.4"/><circle cx="96.23" cy="357.77" r="2.4"/><circle cx="99.04" cy="358.07" r="2.4"/><circle cx="100.61" cy="359.85" r="2.4"/><circle cx="102.53" cy="360.60" r="2.4"/><circle cx="104.70" cy="362.00" r="2.4"/><circle cx="106.80" cy="363.82" r="2.4"/><circle cx="109.02" cy="363.40" r="2.4"/><circle cx="110.84" cy="365.15" r="2.4"/><circle cx="112.81" cy="364.67" r="2.4"/><circle cx="114.87" cy="367.18" r="2.4"/><circle cx="117.28" cy="367.41" r="2.4"/><circle cx="119.17" cy="369.82" r="2.4"/><circle cx="120.66" cy="370.84" r="2.4"/><circle cx="122.82" cy="372.91" r="2.4"/><circle cx="125.17" cy="374.24" r="2.4"/><circle cx="126.93" cy="374.70" r="2.4"/><circle cx="129.06" cy="375.45" r="2.4"/><circle cx="130.93" cy="377.92" r="2.4"/><circle cx="133.20" cy="377.68" r="2.4"/><circle cx="135.46" cy="376.44" r="2.4"/><circle cx="137.69" cy="379.87" r="2.4"/><circle cx="139.44" cy="380.56" r="2.4"/><circle cx="142.12" cy="381.73" r="2.4"/><circle cx="143.51" cy="382.83" r="2.4"/><circle cx="146.57" cy="380.93" r="2.4"/><circle cx="147.95" cy="382.34" r="2.4"/><circle cx="149.85" cy="382.49" r="2.4"/><circle cx="151.59" cy="381.29" r="2.4"/><circle cx="152.93" cy="380.87" r="2.4"/><circle cx="155.80" cy="384.71" r="2.4"/><circle cx="157.95" cy="383.15" r="2.4"/><circle cx="160.54" cy="383.99" r="2.4"/><circle cx="161.58" cy="384.38" r="2.4"/><circle cx="164.64" cy="384.75" r="2.4"/><circle cx="166.03" cy="385.43" r="2.4"/><circle cx="168.38" cy="384.13" r="2.4"/><circle cx="169.43" cy="385.22" r="2.4"/><circle cx="172.31" cy="385.77" r="2.4"/><circle cx="174.21" cy="385.03" r="2.4"/><circle cx="176.58" cy="385.52" r="2.4"/><circle cx="178.45" cy="386.07" r="2.4"/><circle cx="180.12" cy="386.30" r="2.4"/><circle cx="182.81" cy="385.04" r="2.4"/><circle cx="184.79" cy="386.38" r="2.4"/><circle cx="186.81" cy="387.08" r="2.4"/><circle cx="188.99" cy="387.94" r="2.4"/><circle cx="191.07" cy="387.52" r="2.4"/><circle cx="192.77" cy="388.29" r="2.4"/><circle cx="194.41" cy="387.21" r="2.4"/><circle cx="196.46" cy="387.13" r="2.4"/><circle cx="199.35" cy="389.49" r="2.4"/><circle cx="201.21" cy="387.48" r="2.4"/><circle cx="203.07" cy="386.89" r="2.4"/><circle cx="204.96" cy="387.38" r="2.4"/><circle cx="207.15" cy="388.50" r="2.4"/><circle cx="209.20" cy="386.30" r="2.4"/><circle cx="211.14" cy="388.25" r="2.4"/><circle cx="213.08" cy="388.77" r="2.4"/><circle cx="216.02" cy="388.63" r="2.4"/><circle cx="217.47" cy="387.57" r="2.4"/><circle cx="219.27" cy="386.59" r="2.4"/><circle cx="221.10" cy="386.41" r="2.4"/><circle cx="223.33" cy="387.35" r="2.4"/><circle cx="225.83" cy="388.74" r="2.4"/><circle cx="227.89" cy="388.21" r="2.4"/><circle cx="229.65" cy="388.45" r="2.4"/><circle cx="231.78" cy="387.73" r="2.4"/><circle cx="233.72" cy="389.31" r="2.4"/><circle cx="235.53" cy="387.45" r="2.4"/><circle cx="238.32" cy="386.92" r="2.4"/><circle cx="240.09" cy="387.71" r="2.4"/><circle cx="242.79" cy="387.10" r="2.4"/><circle cx="243.84" cy="388.49" r="2.4"/><circle cx="246.08" cy="389.00" r="2.4"/><circle cx="248.45" cy="388.19" r="2.4"/><circle cx="250.15" cy="386.41" r="2.4"/><circle cx="251.86" cy="386.54" r="2.4"/><circle cx="254.04" cy="388.01" r="2.4"/><circle cx="256.42" cy="386.37" r="2.4"/><circle cx="258.54" cy="387.88" r="2.4"/><circle cx="260.46" cy="386.06" r="2.4"/><circle cx="262.85" cy="387.08" r="2.4"/><circle cx="264.90" cy="388.01" r="2.4"/><circle cx="266.74" cy="386.77" r="2.4"/><circle cx="268.70" cy="388.33" r="2.4"/><circle cx="270.67" cy="388.48" r="2.4"/><circle cx="272.80" cy="388.99" r="2.4"/></g>
<g fill="#951048"><circle cx="43.08" cy="250.35" r="2.4"/><circle cx="45.04" cy="251.17" r="2.4"/><circle cx="47.08" cy="251.52" r="2.4"/><circle cx="49.03" cy="251.82" r="2.4"/><circle cx="51.65" cy="251.48" r="2.4"/><circle cx="53.13" cy="252.59" r="2.4"/><circle cx="55.09" cy="250.93" r="2.4"/><circle cx="57.75" cy="252.31" r="2.4"/><circle cx="59.85" cy="252.99" r="2.4"/><circle cx="61.57" cy="256.88" r="2.4"/><circle cx="62.98" cy="260.12" r="2.4"/><circle cx="65.39" cy="267.20" r="2.4"/><circle cx="67.81" cy="272.30" r="2.4"/><circle cx="69.68" cy="279.97" r="2.4"/><circle cx="72.20" cy="286.03" r="2.4"/><circle cx="73.36" cy="290.19" r="2.4"/><circle cx="76.04" cy="297.70" r="2.4"/><circle cx="77.69" cy="302.84" r="2.4"/><circle cx="80.34" cy="310.49" r="2.4"/><circle cx="81.96" cy="319.93" r="2.4"/><circle cx="84.35" cy="324.75" r="2.4"/><circle cx="85.89" cy="329.27" r="2.4"/><circle cx="87.71" cy="330.23" r="2.4"/><circle cx="89.85" cy="339.50" r="2.4"/><circle cx="92.06" cy="347.15" r="2.4"/><circle cx="93.98" cy="357.00" r="2.4"/><circle cx="96.72" cy="364.27" r="2.4"/><circle cx="98.81" cy="374.24" r="2.4"/><circle cx="100.53" cy="374.52" r="2.4"/><circle cx="102.18" cy="375.50" r="2.4"/><circle cx="104.52" cy="376.96" r="2.4"/><circle cx="106.39" cy="375.16" r="2.4"/><circle cx="109.10" cy="372.90" r="2.4"/><circle cx="110.81" cy="373.81" r="2.4"/><circle cx="112.91" cy="372.88" r="2.4"/><circle cx="114.69" cy="374.39" r="2.4"/><circle cx="116.25" cy="374.25" r="2.4"/><circle cx="118.68" cy="375.10" r="2.4"/><circle cx="120.62" cy="375.01" r="2.4"/><circle cx="123.13" cy="374.55" r="2.4"/><circle cx="125.10" cy="377.06" r="2.4"/><circle cx="126.88" cy="378.19" r="2.4"/><circle cx="129.06" cy="380.20" r="2.4"/><circle cx="131.71" cy="381.75" r="2.4"/><circle cx="132.98" cy="380.28" r="2.4"/><circle cx="135.05" cy="384.15" r="2.4"/><circle cx="137.31" cy="385.31" r="2.4"/><circle cx="139.22" cy="385.30" r="2.4"/><circle cx="141.35" cy="386.29" r="2.4"/><circle cx="143.70" cy="384.55" r="2.4"/><circle cx="146.12" cy="389.38" r="2.4"/><circle cx="147.09" cy="386.88" r="2.4"/><circle cx="149.69" cy="387.02" r="2.4"/><circle cx="151.76" cy="389.20" r="2.4"/><circle cx="153.77" cy="389.07" r="2.4"/><circle cx="155.79" cy="388.34" r="2.4"/><circle cx="157.80" cy="387.47" r="2.4"/><circle cx="160.26" cy="390.35" r="2.4"/><circle cx="161.86" cy="391.23" r="2.4"/><circle cx="164.02" cy="388.99" r="2.4"/><circle cx="166.11" cy="388.72" r="2.4"/><circle cx="168.19" cy="390.81" r="2.4"/><circle cx="170.16" cy="392.90" r="2.4"/><circle cx="172.57" cy="389.55" r="2.4"/><circle cx="174.31" cy="391.37" r="2.4"/><circle cx="176.42" cy="390.30" r="2.4"/><circle cx="178.40" cy="391.66" r="2.4"/><circle cx="180.16" cy="392.18" r="2.4"/><circle cx="182.27" cy="392.48" r="2.4"/><circle cx="184.25" cy="390.78" r="2.4"/><circle cx="186.68" cy="391.07" r="2.4"/><circle cx="188.46" cy="394.78" r="2.4"/><circle cx="190.40" cy="393.78" r="2.4"/><circle cx="192.85" cy="391.32" r="2.4"/><circle cx="194.99" cy="393.63" r="2.4"/><circle cx="196.34" cy="394.73" r="2.4"/><circle cx="199.46" cy="393.63" r="2.4"/><circle cx="201.00" cy="393.86" r="2.4"/><circle cx="203.01" cy="393.99" r="2.4"/><circle cx="205.42" cy="394.53" r="2.4"/><circle cx="207.16" cy="394.46" r="2.4"/><circle cx="209.01" cy="394.71" r="2.4"/><circle cx="211.92" cy="394.09" r="2.4"/><circle cx="212.97" cy="395.28" r="2.4"/><circle cx="215.32" cy="394.89" r="2.4"/><circle cx="217.66" cy="394.87" r="2.4"/><circle cx="219.12" cy="393.52" r="2.4"/><circle cx="221.47" cy="394.57" r="2.4"/><circle cx="223.68" cy="395.16" r="2.4"/><circle cx="226.35" cy="394.66" r="2.4"/><circle cx="227.39" cy="394.84" r="2.4"/><circle cx="229.70" cy="394.28" r="2.4"/><circle cx="231.97" cy="394.97" r="2.4"/><circle cx="233.84" cy="393.78" r="2.4"/><circle cx="235.50" cy="394.30" r="2.4"/><circle cx="238.05" cy="395.78" r="2.4"/><circle cx="240.00" cy="396.24" r="2.4"/><circle cx="242.16" cy="395.04" r="2.4"/><circle cx="244.42" cy="395.49" r="2.4"/><circle cx="246.44" cy="396.17" r="2.4"/><circle cx="248.30" cy="397.61" r="2.4"/><circle cx="250.33" cy="398.02" r="2.4"/><circle cx="251.94" cy="395.92" r="2.4"/><circle cx="254.29" cy="395.57" r="2.4"/><circle cx="256.45" cy="395.59" r="2.4"/><circle cx="258.31" cy="397.71" r="2.4"/><circle cx="260.52" cy="395.46" r="2.4"/><circle cx="262.29" cy="397.04" r="2.4"/><circle cx="265.07" cy="396.18" r="2.4"/><circle cx="267.31" cy="396.18" r="2.4"/><circle cx="268.58" cy="397.39" r="2.4"/><circle cx="270.87" cy="397.20" r="2.4"/><circle cx="272.73" cy="398.67" r="2.4"/></g>
<path d="M43.00,251.60 L43.58,251.60 L44.15,251.60 L44.73,251.60 L45.30,251.60 L45.88,251.60 L46.46,251.60 L47.03,251.60 L47.61,251.60 L48.18,251.60 L48.76,251.60 L49.34,251.60 L49.91,251.60 L50.49,251.60 L51.06,251.60 L51.64,251.60 L52.22,251.60 L52.79,251.60 L53.37,251.60 L53.94,251.60 L54.52,251.60 L55.09,251.60 L55.67,251.60 L56.25,251.60 L56.82,251.60 L57.40,251.60 L57.97,251.60 L58.55,251.60 L59.13,251.60 L59.70,251.69 L60.28,252.37 L60.85,253.58 L61.43,255.15 L62.01,256.94 L62.58,258.78 L63.16,260.52 L63.73,262.03 L64.31,263.48 L64.89,264.94 L65.46,266.42 L66.04,267.92 L66.61,269.44 L67.19,271.00 L67.77,272.60 L68.34,274.25 L68.92,275.95 L69.49,277.67 L70.07,279.43 L70.65,281.21 L71.22,282.99 L71.80,284.78 L72.37,286.59 L72.95,288.42 L73.52,290.27 L74.10,292.13 L74.68,294.00 L75.25,295.87 L75.83,297.74 L76.40,299.55 L76.98,301.27 L77.56,302.98 L78.13,304.76 L78.71,306.68 L79.28,308.81 L79.86,311.27 L80.44,314.42 L81.01,318.05 L81.59,321.89 L82.16,325.64 L82.74,329.00 L83.32,331.70 L83.89,334.03 L84.47,336.24 L85.04,338.29 L85.62,340.20 L86.20,341.94 L86.77,343.51 L87.35,344.89 L87.92,346.10 L88.50,347.23 L89.08,348.31 L89.65,349.33 L90.23,350.31 L90.80,351.23 L91.38,352.11 L91.95,352.94 L92.53,353.73 L93.11,354.47 L93.68,355.17 L94.26,355.83 L94.83,356.45 L95.41,357.03 L95.99,357.57 L96.56,358.08 L97.14,358.57 L97.71,359.04 L98.29,359.49 L98.87,359.92 L99.44,360.34 L100.02,360.74 L100.59,361.12 L101.17,361.49 L101.75,361.85 L102.32,362.20 L102.90,362.54 L103.47,362.87 L104.05,363.18 L104.63,363.50 L105.20,363.80 L105.78,364.10 L106.35,364.40 L106.93,364.69 L107.51,364.98 L108.08,365.27 L108.66,365.55 L109.23,365.84 L109.81,366.13 L110.38,366.42 L110.96,366.72 L111.54,367.01 L112.11,367.30 L112.69,367.59 L113.26,367.88 L113.84,368.16 L114.42,368.44 L114.99,368.71 L115.57,368.99 L116.14,369.26 L116.72,369.53 L117.30,369.80 L117.87,370.06 L118.45,370.32 L119.02,370.58 L119.60,370.83 L120.18,371.09 L120.75,371.34 L121.33,371.58 L121.90,371.83 L122.48,372.07 L123.06,372.31 L123.63,372.55 L124.21,372.78 L124.78,373.01 L125.36,373.24 L125.94,373.46 L126.51,373.68 L127.09,373.90 L127.66,374.12 L128.24,374.33 L128.82,374.55 L129.39,374.76 L129.97,374.97 L130.54,375.18 L131.12,375.39 L131.69,375.59 L132.27,375.80 L132.85,376.01 L133.42,376.21 L134.00,376.41 L134.57,376.61 L135.15,376.81 L135.73,377.00 L136.30,377.20 L136.88,377.39 L137.45,377.57 L138.03,377.76 L138.61,377.94 L139.18,378.11 L139.76,378.29 L140.33,378.46 L140.91,378.62 L141.49,378.78 L142.06,378.94 L142.64,379.09 L143.21,379.24 L143.79,379.38 L144.37,379.51 L144.94,379.64 L145.52,379.77 L146.09,379.89 L146.67,380.01 L147.25,380.13 L147.82,380.25 L148.40,380.37 L148.97,380.49 L149.55,380.60 L150.12,380.71 L150.70,380.82 L151.28,380.93 L151.85,381.04 L152.43,381.15 L153.00,381.26 L153.58,381.36 L154.16,381.46 L154.73,381.56 L155.31,381.67 L155.88,381.76 L156.46,381.86 L157.04,381.96 L157.61,382.05 L158.19,382.15 L158.76,382.24 L159.34,382.33 L159.92,382.42 L160.49,382.51 L161.07,382.60 L161.64,382.68 L162.22,382.77 L162.80,382.85 L163.37,382.93 L163.95,383.01 L164.52,383.09 L165.10,383.17 L165.68,383.25 L166.25,383.33 L166.83,383.40 L167.40,383.47 L167.98,383.55 L168.55,383.62 L169.13,383.69 L169.71,383.76 L170.28,383.82 L170.86,383.89 L171.43,383.95 L172.01,384.02 L172.59,384.08 L173.16,384.14 L173.74,384.20 L174.31,384.26 L174.89,384.32 L175.47,384.38 L176.04,384.44 L176.62,384.50 L177.19,384.56 L177.77,384.62 L178.35,384.67 L178.92,384.73 L179.50,384.79 L180.07,384.85 L180.65,384.90 L181.23,384.96 L181.80,385.02 L182.38,385.07 L182.95,385.13 L183.53,385.18 L184.11,385.24 L184.68,385.29 L185.26,385.35 L185.83,385.40 L186.41,385.45 L186.98,385.50 L187.56,385.55 L188.14,385.61 L188.71,385.66 L189.29,385.70 L189.86,385.75 L190.44,385.80 L191.02,385.85 L191.59,385.89 L192.17,385.94 L192.74,385.98 L193.32,386.03 L193.90,386.07 L194.47,386.11 L195.05,386.15 L195.62,386.19 L196.20,386.23 L196.78,386.27 L197.35,386.30 L197.93,386.34 L198.50,386.37 L199.08,386.41 L199.66,386.44 L200.23,386.47 L200.81,386.50 L201.38,386.53 L201.96,386.56 L202.54,386.58 L203.11,386.61 L203.69,386.63 L204.26,386.65 L204.84,386.67 L205.42,386.69 L205.99,386.71 L206.57,386.72 L207.14,386.74 L207.72,386.75 L208.29,386.76 L208.87,386.78 L209.45,386.79 L210.02,386.80 L210.60,386.82 L211.17,386.83 L211.75,386.84 L212.33,386.85 L212.90,386.87 L213.48,386.88 L214.05,386.89 L214.63,386.90 L215.21,386.92 L215.78,386.93 L216.36,386.94 L216.93,386.95 L217.51,386.96 L218.09,386.97 L218.66,386.99 L219.24,387.00 L219.81,387.01 L220.39,387.02 L220.97,387.03 L221.54,387.04 L222.12,387.05 L222.69,387.06 L223.27,387.08 L223.85,387.09 L224.42,387.10 L225.00,387.11 L225.57,387.12 L226.15,387.13 L226.72,387.14 L227.30,387.15 L227.88,387.16 L228.45,387.17 L229.03,387.18 L229.60,387.19 L230.18,387.20 L230.76,387.21 L231.33,387.21 L231.91,387.22 L232.48,387.23 L233.06,387.24 L233.64,387.25 L234.21,387.26 L234.79,387.27 L235.36,387.28 L235.94,387.28 L236.52,387.29 L237.09,387.30 L237.67,387.31 L238.24,387.32 L238.82,387.32 L239.40,387.33 L239.97,387.34 L240.55,387.35 L241.12,387.35 L241.70,387.36 L242.28,387.37 L242.85,387.38 L243.43,387.38 L244.00,387.39 L244.58,387.40 L245.15,387.40 L245.73,387.41 L246.31,387.41 L246.88,387.42 L247.46,387.43 L248.03,387.43 L248.61,387.44 L249.19,387.44 L249.76,387.45 L250.34,387.45 L250.91,387.46 L251.49,387.47 L252.07,387.47 L252.64,387.47 L253.22,387.48 L253.79,387.48 L254.37,387.49 L254.95,387.49 L255.52,387.50 L256.10,387.50 L256.67,387.51 L257.25,387.51 L257.83,387.51 L258.40,387.52 L258.98,387.52 L259.55,387.52 L260.13,387.53 L260.71,387.53 L261.28,387.53 L261.86,387.53 L262.43,387.54 L263.01,387.54 L263.58,387.54 L264.16,387.54 L264.74,387.55 L265.31,387.55 L265.89,387.55 L266.46,387.55 L267.04,387.55 L267.62,387.55 L268.19,387.56 L268.77,387.56 L269.34,387.56 L269.92,387.56 L270.50,387.56 L271.07,387.56 L271.65,387.56 L272.22,387.56 L272.80,387.56" fill="none" stroke="#e070a0" stroke-width="1.0"/>
<path d="M43.00,251.60 L43.58,251.60 L44.15,251.60 L44.73,251.60 L45.30,251.60 L45.88,251.60 L46.46,251.60 L47.03,251.60 L47.61,251.60 L48.18,251.60 L48.76,251.60 L49.34,251.60 L49.91,251.60 L50.49,251.60 L51.06,251.60 L51.64,251.60 L52.22,251.60 L52.79,251.60 L53.37,251.60 L53.94,251.60 L54.52,251.60 L55.09,251.60 L55.67,251.60 L56.25,251.60 L56.82,251.60 L57.40,251.60 L57.97,251.60 L58.55,251.60 L59.13,251.60 L59.70,251.70 L60.28,252.42 L60.85,253.71 L61.43,255.41 L62.01,257.33 L62.58,259.33 L63.16,261.24 L63.73,262.92 L64.31,264.56 L64.89,266.24 L65.46,267.96 L66.04,269.71 L66.61,271.49 L67.19,273.30 L67.77,275.13 L68.34,277.00 L68.92,278.89 L69.49,280.81 L70.07,282.78 L70.65,284.79 L71.22,286.84 L71.80,288.95 L72.37,291.11 L72.95,293.33 L73.52,295.60 L74.10,297.93 L74.68,300.30 L75.25,302.71 L75.83,305.16 L76.40,307.65 L76.98,310.17 L77.56,312.75 L78.13,315.39 L78.71,318.10 L79.28,320.88 L79.86,323.80 L80.44,327.09 L81.01,330.62 L81.59,334.16 L82.16,337.48 L82.74,340.36 L83.32,342.58 L83.89,344.42 L84.47,346.08 L85.04,347.60 L85.62,348.98 L86.20,350.23 L86.77,351.38 L87.35,352.44 L87.92,353.42 L88.50,354.35 L89.08,355.25 L89.65,356.12 L90.23,356.94 L90.80,357.74 L91.38,358.49 L91.95,359.22 L92.53,359.90 L93.11,360.56 L93.68,361.19 L94.26,361.78 L94.83,362.34 L95.41,362.87 L95.99,363.37 L96.56,363.84 L97.14,364.29 L97.71,364.72 L98.29,365.14 L98.87,365.55 L99.44,365.94 L100.02,366.32 L100.59,366.68 L101.17,367.04 L101.75,367.38 L102.32,367.71 L102.90,368.04 L103.47,368.35 L104.05,368.66 L104.63,368.96 L105.20,369.26 L105.78,369.55 L106.35,369.83 L106.93,370.12 L107.51,370.40 L108.08,370.68 L108.66,370.95 L109.23,371.23 L109.81,371.51 L110.38,371.79 L110.96,372.07 L111.54,372.34 L112.11,372.62 L112.69,372.89 L113.26,373.17 L113.84,373.43 L114.42,373.70 L114.99,373.96 L115.57,374.22 L116.14,374.48 L116.72,374.74 L117.30,374.99 L117.87,375.24 L118.45,375.49 L119.02,375.74 L119.60,375.98 L120.18,376.22 L120.75,376.46 L121.33,376.69 L121.90,376.92 L122.48,377.15 L123.06,377.38 L123.63,377.60 L124.21,377.82 L124.78,378.04 L125.36,378.25 L125.94,378.46 L126.51,378.67 L127.09,378.88 L127.66,379.08 L128.24,379.28 L128.82,379.48 L129.39,379.67 L129.97,379.86 L130.54,380.06 L131.12,380.24 L131.69,380.43 L132.27,380.62 L132.85,380.80 L133.42,380.98 L134.00,381.16 L134.57,381.33 L135.15,381.51 L135.73,381.68 L136.30,381.85 L136.88,382.02 L137.45,382.18 L138.03,382.35 L138.61,382.51 L139.18,382.67 L139.76,382.83 L140.33,382.99 L140.91,383.14 L141.49,383.29 L142.06,383.44 L142.64,383.59 L143.21,383.74 L143.79,383.88 L144.37,384.03 L144.94,384.17 L145.52,384.31 L146.09,384.44 L146.67,384.58 L147.25,384.72 L147.82,384.86 L148.40,384.99 L148.97,385.13 L149.55,385.26 L150.12,385.40 L150.70,385.53 L151.28,385.66 L151.85,385.79 L152.43,385.93 L153.00,386.06 L153.58,386.19 L154.16,386.32 L154.73,386.44 L155.31,386.57 L155.88,386.70 L156.46,386.82 L157.04,386.95 L157.61,387.07 L158.19,387.19 L158.76,387.31 L159.34,387.43 L159.92,387.55 L160.49,387.67 L161.07,387.78 L161.64,387.90 L162.22,388.01 L162.80,388.12 L163.37,388.23 L163.95,388.34 L164.52,388.45 L165.10,388.56 L165.68,388.66 L166.25,388.77 L166.83,388.87 L167.40,388.97 L167.98,389.07 L168.55,389.16 L169.13,389.26 L169.71,389.35 L170.28,389.44 L170.86,389.53 L171.43,389.62 L172.01,389.71 L172.59,389.79 L173.16,389.87 L173.74,389.95 L174.31,390.03 L174.89,390.11 L175.47,390.19 L176.04,390.26 L176.62,390.34 L177.19,390.41 L177.77,390.48 L178.35,390.56 L178.92,390.63 L179.50,390.70 L180.07,390.77 L180.65,390.84 L181.23,390.91 L181.80,390.98 L182.38,391.04 L182.95,391.11 L183.53,391.18 L184.11,391.24 L184.68,391.31 L185.26,391.37 L185.83,391.43 L186.41,391.50 L186.98,391.56 L187.56,391.62 L188.14,391.68 L188.71,391.74 L189.29,391.80 L189.86,391.86 L190.44,391.92 L191.02,391.97 L191.59,392.03 L192.17,392.09 L192.74,392.14 L193.32,392.20 L193.90,392.25 L194.47,392.31 L195.05,392.36 L195.62,392.41 L196.20,392.46 L196.78,392.51 L197.35,392.56 L197.93,392.61 L198.50,392.66 L199.08,392.71 L199.66,392.76 L200.23,392.81 L200.81,392.85 L201.38,392.90 L201.96,392.94 L202.54,392.99 L203.11,393.03 L203.69,393.08 L204.26,393.12 L204.84,393.16 L205.42,393.21 L205.99,393.25 L206.57,393.29 L207.14,393.33 L207.72,393.37 L208.29,393.41 L208.87,393.45 L209.45,393.49 L210.02,393.53 L210.60,393.57 L211.17,393.61 L211.75,393.65 L212.33,393.69 L212.90,393.73 L213.48,393.76 L214.05,393.80 L214.63,393.84 L215.21,393.88 L215.78,393.92 L216.36,393.96 L216.93,394.00 L217.51,394.04 L218.09,394.07 L218.66,394.11 L219.24,394.15 L219.81,394.19 L220.39,394.23 L220.97,394.27 L221.54,394.30 L222.12,394.34 L222.69,394.38 L223.27,394.41 L223.85,394.45 L224.42,394.49 L225.00,394.53 L225.57,394.56 L226.15,394.60 L226.72,394.63 L227.30,394.67 L227.88,394.71 L228.45,394.74 L229.03,394.78 L229.60,394.81 L230.18,394.85 L230.76,394.88 L231.33,394.92 L231.91,394.95 L232.48,394.99 L233.06,395.02 L233.64,395.05 L234.21,395.09 L234.79,395.12 L235.36,395.15 L235.94,395.19 L236.52,395.22 L237.09,395.25 L237.67,395.28 L238.24,395.32 L238.82,395.35 L239.40,395.38 L239.97,395.41 L240.55,395.44 L241.12,395.47 L241.70,395.50 L242.28,395.53 L242.85,395.56 L243.43,395.59 L244.00,395.62 L244.58,395.65 L245.15,395.68 L245.73,395.70 L246.31,395.73 L246.88,395.76 L247.46,395.79 L248.03,395.81 L248.61,395.84 L249.19,395.87 L249.76,395.89 L250.34,395.92 L250.91,395.94 L251.49,395.97 L252.07,395.99 L252.64,396.02 L253.22,396.04 L253.79,396.07 L254.37,396.09 L254.95,396.11 L255.52,396.14 L256.10,396.16 L256.67,396.18 L257.25,396.20 L257.83,396.22 L258.40,396.24 L258.98,396.26 L259.55,396.28 L260.13,396.30 L260.71,396.32 L261.28,396.34 L261.86,396.36 L262.43,396.38 L263.01,396.39 L263.58,396.41 L264.16,396.43 L264.74,396.44 L265.31,396.46 L265.89,396.47 L266.46,396.49 L267.04,396.50 L267.62,396.52 L268.19,396.53 L268.77,396.54 L269.34,396.56 L269.92,396.57 L270.50,396.58 L271.07,396.59 L271.65,396.60 L272.22,396.61 L272.80,396.62" fill="none" stroke="#d04a88" stroke-width="1.0"/>
<g fill="#0a0a0a"><circle cx="305.50" cy="250.88" r="2.4"/><circle cx="307.30" cy="248.65" r="2.4"/><circle cx="310.59" cy="245.57" r="2.4"/><circle cx="312.91" cy="248.79" r="2.4"/><circle cx="315.69" cy="249.73" r="2.4"/><circle cx="317.94" cy="248.41" r="2.4"/><circle cx="320.04" cy="246.87" r="2.4"/><circle cx="322.86" cy="248.66" r="2.4"/><circle cx="325.05" cy="248.30" r="2.4"/><circle cx="327.88" cy="250.57" r="2.4"/><circle cx="330.24" cy="252.83" r="2.4"/><circle cx="332.22" cy="250.14" r="2.4"/><circle cx="335.05" cy="256.15" r="2.4"/><circle cx="337.53" cy="259.26" r="2.4"/><circle cx="339.86" cy="261.90" r="2.4"/><circle cx="342.76" cy="264.31" r="2.4"/><circle cx="345.53" cy="267.59" r="2.4"/><circle cx="347.22" cy="268.53" r="2.4"/><circle cx="349.69" cy="269.34" r="2.4"/><circle cx="351.45" cy="271.20" r="2.4"/><circle cx="354.70" cy="267.47" r="2.4"/><circle cx="357.04" cy="267.60" r="2.4"/><circle cx="358.87" cy="266.96" r="2.4"/><circle cx="362.24" cy="267.30" r="2.4"/><circle cx="364.81" cy="265.43" r="2.4"/><circle cx="366.78" cy="265.01" r="2.4"/><circle cx="369.38" cy="263.37" r="2.4"/><circle cx="371.62" cy="264.28" r="2.4"/><circle cx="374.72" cy="261.36" r="2.4"/><circle cx="376.34" cy="260.68" r="2.4"/><circle cx="379.25" cy="261.14" r="2.4"/><circle cx="382.55" cy="259.63" r="2.4"/><circle cx="384.31" cy="259.52" r="2.4"/><circle cx="386.92" cy="256.89" r="2.4"/><circle cx="389.16" cy="260.51" r="2.4"/><circle cx="391.24" cy="257.55" r="2.4"/><circle cx="394.13" cy="258.65" r="2.4"/><circle cx="396.75" cy="256.87" r="2.4"/><circle cx="398.68" cy="255.18" r="2.4"/><circle cx="401.65" cy="256.77" r="2.4"/><circle cx="404.45" cy="255.74" r="2.4"/><circle cx="406.84" cy="256.81" r="2.4"/><circle cx="408.33" cy="253.47" r="2.4"/><circle cx="411.01" cy="254.59" r="2.4"/><circle cx="413.24" cy="254.26" r="2.4"/><circle cx="416.69" cy="257.06" r="2.4"/><circle cx="418.98" cy="256.73" r="2.4"/><circle cx="421.48" cy="254.09" r="2.4"/><circle cx="423.36" cy="255.55" r="2.4"/><circle cx="425.71" cy="255.57" r="2.4"/><circle cx="428.64" cy="254.81" r="2.4"/><circle cx="431.11" cy="256.65" r="2.4"/><circle cx="433.22" cy="254.21" r="2.4"/><circle cx="436.05" cy="255.06" r="2.4"/><circle cx="438.69" cy="254.47" r="2.4"/><circle cx="441.00" cy="255.79" r="2.4"/><circle cx="443.00" cy="254.37" r="2.4"/><circle cx="445.06" cy="255.78" r="2.4"/><circle cx="448.21" cy="253.77" r="2.4"/><circle cx="450.83" cy="253.53" r="2.4"/><circle cx="453.13" cy="253.76" r="2.4"/><circle cx="455.53" cy="254.20" r="2.4"/><circle cx="457.90" cy="254.02" r="2.4"/><circle cx="460.88" cy="257.93" r="2.4"/><circle cx="463.06" cy="253.71" r="2.4"/><circle cx="465.58" cy="254.99" r="2.4"/><circle cx="467.64" cy="254.53" r="2.4"/><circle cx="470.23" cy="254.94" r="2.4"/><circle cx="472.99" cy="256.21" r="2.4"/><circle cx="475.02" cy="255.17" r="2.4"/><circle cx="477.38" cy="253.73" r="2.4"/><circle cx="480.19" cy="252.79" r="2.4"/><circle cx="483.22" cy="255.17" r="2.4"/><circle cx="485.31" cy="255.47" r="2.4"/><circle cx="488.24" cy="252.65" r="2.4"/><circle cx="490.11" cy="255.39" r="2.4"/><circle cx="492.51" cy="251.86" r="2.4"/><circle cx="494.57" cy="254.23" r="2.4"/><circle cx="497.33" cy="255.30" r="2.4"/><circle cx="500.54" cy="253.06" r="2.4"/><circle cx="502.59" cy="252.20" r="2.4"/><circle cx="505.20" cy="255.87" r="2.4"/><circle cx="507.66" cy="252.31" r="2.4"/><circle cx="509.85" cy="254.47" r="2.4"/><circle cx="512.24" cy="252.35" r="2.4"/><circle cx="514.83" cy="254.54" r="2.4"/><circle cx="517.49" cy="255.93" r="2.4"/><circle cx="519.88" cy="253.46" r="2.4"/><circle cx="522.35" cy="252.94" r="2.4"/><circle cx="524.69" cy="251.54" r="2.4"/><circle cx="526.81" cy="251.97" r="2.4"/><circle cx="529.46" cy="253.17" r="2.4"/><circle cx="531.67" cy="254.26" r="2.4"/><circle cx="534.85" cy="254.58" r="2.4"/></g>
<path d="M305.50,248.39 L306.08,248.39 L306.65,248.39 L307.23,248.39 L307.80,248.39 L308.38,248.39 L308.96,248.39 L309.53,248.39 L310.11,248.39 L310.68,248.39 L311.26,248.39 L311.84,248.39 L312.41,248.39 L312.99,248.39 L313.56,248.39 L314.14,248.39 L314.72,248.39 L315.29,248.39 L315.87,248.39 L316.44,248.39 L317.02,248.39 L317.59,248.39 L318.17,248.39 L318.75,248.39 L319.32,248.39 L319.90,248.39 L320.47,248.39 L321.05,248.39 L321.63,248.39 L322.20,248.40 L322.78,248.46 L323.35,248.57 L323.93,248.70 L324.51,248.85 L325.08,249.04 L325.66,249.30 L326.23,249.61 L326.81,249.96 L327.39,250.34 L327.96,250.75 L328.54,251.16 L329.11,251.59 L329.69,252.00 L330.27,252.41 L330.84,252.82 L331.42,253.25 L331.99,253.69 L332.57,254.14 L333.15,254.61 L333.72,255.08 L334.30,255.58 L334.87,256.08 L335.45,256.60 L336.02,257.13 L336.60,257.68 L337.18,258.25 L337.75,258.86 L338.33,259.51 L338.90,260.18 L339.48,260.87 L340.06,261.57 L340.63,262.27 L341.21,262.96 L341.78,263.64 L342.36,264.31 L342.94,264.95 L343.51,265.56 L344.09,266.26 L344.66,267.00 L345.24,267.73 L345.82,268.40 L346.39,268.96 L346.97,269.34 L347.54,269.50 L348.12,269.50 L348.70,269.50 L349.27,269.50 L349.85,269.50 L350.42,269.50 L351.00,269.50 L351.58,269.50 L352.15,269.37 L352.73,269.10 L353.30,268.77 L353.88,268.45 L354.45,268.19 L355.03,267.97 L355.61,267.76 L356.18,267.55 L356.76,267.34 L357.33,267.14 L357.91,266.94 L358.49,266.75 L359.06,266.55 L359.64,266.37 L360.21,266.18 L360.79,266.00 L361.37,265.81 L361.94,265.64 L362.52,265.46 L363.09,265.28 L363.67,265.10 L364.25,264.93 L364.82,264.75 L365.40,264.57 L365.97,264.40 L366.55,264.22 L367.13,264.04 L367.70,263.86 L368.28,263.68 L368.85,263.49 L369.43,263.31 L370.01,263.12 L370.58,262.92 L371.16,262.72 L371.73,262.52 L372.31,262.31 L372.88,262.10 L373.46,261.89 L374.04,261.68 L374.61,261.46 L375.19,261.25 L375.76,261.04 L376.34,260.83 L376.92,260.62 L377.49,260.41 L378.07,260.21 L378.64,260.02 L379.22,259.83 L379.80,259.65 L380.37,259.47 L380.95,259.31 L381.52,259.15 L382.10,259.00 L382.68,258.86 L383.25,258.74 L383.83,258.61 L384.40,258.49 L384.98,258.37 L385.56,258.25 L386.13,258.13 L386.71,258.01 L387.28,257.89 L387.86,257.78 L388.44,257.66 L389.01,257.55 L389.59,257.44 L390.16,257.34 L390.74,257.23 L391.32,257.13 L391.89,257.03 L392.47,256.94 L393.04,256.85 L393.62,256.76 L394.19,256.68 L394.77,256.60 L395.35,256.53 L395.92,256.45 L396.50,256.39 L397.07,256.33 L397.65,256.27 L398.23,256.22 L398.80,256.18 L399.38,256.14 L399.95,256.10 L400.53,256.07 L401.11,256.05 L401.68,256.02 L402.26,256.00 L402.83,255.97 L403.41,255.95 L403.99,255.92 L404.56,255.90 L405.14,255.88 L405.71,255.86 L406.29,255.83 L406.87,255.81 L407.44,255.79 L408.02,255.77 L408.59,255.75 L409.17,255.73 L409.75,255.71 L410.32,255.69 L410.90,255.67 L411.47,255.65 L412.05,255.63 L412.62,255.61 L413.20,255.59 L413.78,255.58 L414.35,255.56 L414.93,255.54 L415.50,255.53 L416.08,255.51 L416.66,255.49 L417.23,255.48 L417.81,255.46 L418.38,255.44 L418.96,255.43 L419.54,255.41 L420.11,255.40 L420.69,255.39 L421.26,255.37 L421.84,255.36 L422.42,255.34 L422.99,255.33 L423.57,255.32 L424.14,255.30 L424.72,255.29 L425.30,255.28 L425.87,255.27 L426.45,255.25 L427.02,255.24 L427.60,255.23 L428.18,255.22 L428.75,255.21 L429.33,255.20 L429.90,255.19 L430.48,255.17 L431.05,255.16 L431.63,255.15 L432.21,255.14 L432.78,255.13 L433.36,255.12 L433.93,255.11 L434.51,255.10 L435.09,255.09 L435.66,255.08 L436.24,255.07 L436.81,255.07 L437.39,255.06 L437.97,255.05 L438.54,255.04 L439.12,255.03 L439.69,255.02 L440.27,255.01 L440.85,255.00 L441.42,255.00 L442.00,254.99 L442.57,254.98 L443.15,254.97 L443.73,254.96 L444.30,254.96 L444.88,254.95 L445.45,254.94 L446.03,254.93 L446.61,254.92 L447.18,254.92 L447.76,254.91 L448.33,254.90 L448.91,254.89 L449.48,254.89 L450.06,254.88 L450.64,254.87 L451.21,254.86 L451.79,254.86 L452.36,254.85 L452.94,254.84 L453.52,254.83 L454.09,254.82 L454.67,254.82 L455.24,254.81 L455.82,254.80 L456.40,254.79 L456.97,254.79 L457.55,254.78 L458.12,254.77 L458.70,254.76 L459.28,254.76 L459.85,254.75 L460.43,254.74 L461.00,254.73 L461.58,254.72 L462.16,254.71 L462.73,254.71 L463.31,254.70 L463.88,254.69 L464.46,254.68 L465.04,254.67 L465.61,254.67 L466.19,254.66 L466.76,254.65 L467.34,254.64 L467.92,254.63 L468.49,254.63 L469.07,254.62 L469.64,254.61 L470.22,254.60 L470.79,254.59 L471.37,254.59 L471.95,254.58 L472.52,254.57 L473.10,254.56 L473.67,254.55 L474.25,254.55 L474.83,254.54 L475.40,254.53 L475.98,254.52 L476.55,254.52 L477.13,254.51 L477.71,254.50 L478.28,254.49 L478.86,254.49 L479.43,254.48 L480.01,254.47 L480.59,254.46 L481.16,254.46 L481.74,254.45 L482.31,254.44 L482.89,254.43 L483.47,254.43 L484.04,254.42 L484.62,254.41 L485.19,254.40 L485.77,254.40 L486.35,254.39 L486.92,254.38 L487.50,254.38 L488.07,254.37 L488.65,254.36 L489.22,254.35 L489.80,254.35 L490.38,254.34 L490.95,254.33 L491.53,254.33 L492.10,254.32 L492.68,254.31 L493.26,254.31 L493.83,254.30 L494.41,254.29 L494.98,254.29 L495.56,254.28 L496.14,254.27 L496.71,254.27 L497.29,254.26 L497.86,254.25 L498.44,254.25 L499.02,254.24 L499.59,254.24 L500.17,254.23 L500.74,254.22 L501.32,254.22 L501.90,254.21 L502.47,254.20 L503.05,254.20 L503.62,254.19 L504.20,254.19 L504.78,254.18 L505.35,254.18 L505.93,254.17 L506.50,254.16 L507.08,254.16 L507.65,254.15 L508.23,254.15 L508.81,254.14 L509.38,254.14 L509.96,254.13 L510.53,254.13 L511.11,254.12 L511.69,254.12 L512.26,254.11 L512.84,254.11 L513.41,254.10 L513.99,254.10 L514.57,254.09 L515.14,254.09 L515.72,254.08 L516.29,254.08 L516.87,254.07 L517.45,254.07 L518.02,254.06 L518.60,254.06 L519.17,254.06 L519.75,254.05 L520.33,254.05 L520.90,254.04 L521.48,254.04 L522.05,254.04 L522.63,254.03 L523.21,254.03 L523.78,254.02 L524.36,254.02 L524.93,254.02 L525.51,254.01 L526.08,254.01 L526.66,254.01 L527.24,254.00 L527.81,254.00 L528.39,254.00 L528.96,253.99 L529.54,253.99 L530.12,253.99 L530.69,253.98 L531.27,253.98 L531.84,253.98 L532.42,253.98 L533.00,253.97 L533.57,253.97 L534.15,253.97 L534.72,253.97 L535.30,253.96" fill="none" stroke="#d0d0d0" stroke-width="1.1"/>
<g fill="#aaaaaa"><circle cx="305.50" cy="247.80" r="2.4"/><circle cx="307.66" cy="248.08" r="2.4"/><circle cx="310.32" cy="247.90" r="2.4"/><circle cx="311.95" cy="249.07" r="2.4"/><circle cx="315.41" cy="246.65" r="2.4"/><circle cx="317.80" cy="248.14" r="2.4"/><circle cx="321.22" cy="252.09" r="2.4"/><circle cx="323.02" cy="249.48" r="2.4"/><circle cx="325.02" cy="249.67" r="2.4"/><circle cx="327.87" cy="250.75" r="2.4"/><circle cx="329.67" cy="254.40" r="2.4"/><circle cx="332.36" cy="257.29" r="2.4"/><circle cx="334.36" cy="260.39" r="2.4"/><circle cx="338.04" cy="265.79" r="2.4"/><circle cx="340.19" cy="274.20" r="2.4"/><circle cx="342.00" cy="280.20" r="2.4"/><circle cx="344.87" cy="289.56" r="2.4"/><circle cx="347.71" cy="292.47" r="2.4"/><circle cx="350.00" cy="294.60" r="2.4"/><circle cx="352.42" cy="295.26" r="2.4"/><circle cx="354.43" cy="291.44" r="2.4"/><circle cx="356.97" cy="292.65" r="2.4"/><circle cx="359.70" cy="290.69" r="2.4"/><circle cx="362.47" cy="290.18" r="2.4"/><circle cx="364.29" cy="288.75" r="2.4"/><circle cx="366.64" cy="288.55" r="2.4"/><circle cx="369.94" cy="290.11" r="2.4"/><circle cx="371.63" cy="289.19" r="2.4"/><circle cx="374.84" cy="289.96" r="2.4"/><circle cx="376.99" cy="285.43" r="2.4"/><circle cx="379.69" cy="286.48" r="2.4"/><circle cx="382.47" cy="284.62" r="2.4"/><circle cx="384.54" cy="286.56" r="2.4"/><circle cx="387.04" cy="288.47" r="2.4"/><circle cx="388.87" cy="283.32" r="2.4"/><circle cx="391.42" cy="284.86" r="2.4"/><circle cx="394.37" cy="284.37" r="2.4"/><circle cx="397.17" cy="284.12" r="2.4"/><circle cx="399.58" cy="283.07" r="2.4"/><circle cx="402.38" cy="282.98" r="2.4"/><circle cx="404.10" cy="285.70" r="2.4"/><circle cx="406.52" cy="281.89" r="2.4"/><circle cx="409.28" cy="283.87" r="2.4"/><circle cx="411.38" cy="283.64" r="2.4"/><circle cx="413.81" cy="280.51" r="2.4"/><circle cx="415.91" cy="281.46" r="2.4"/><circle cx="419.12" cy="282.96" r="2.4"/><circle cx="420.82" cy="284.91" r="2.4"/><circle cx="423.87" cy="282.01" r="2.4"/><circle cx="425.62" cy="281.41" r="2.4"/><circle cx="429.01" cy="282.07" r="2.4"/><circle cx="430.69" cy="283.56" r="2.4"/><circle cx="433.84" cy="282.79" r="2.4"/><circle cx="435.41" cy="283.34" r="2.4"/><circle cx="438.29" cy="281.22" r="2.4"/><circle cx="441.35" cy="280.27" r="2.4"/><circle cx="443.08" cy="279.91" r="2.4"/><circle cx="445.87" cy="282.17" r="2.4"/><circle cx="448.13" cy="280.76" r="2.4"/><circle cx="449.91" cy="280.25" r="2.4"/><circle cx="453.34" cy="281.54" r="2.4"/><circle cx="455.85" cy="280.94" r="2.4"/><circle cx="457.74" cy="277.78" r="2.4"/><circle cx="460.83" cy="280.23" r="2.4"/><circle cx="462.78" cy="279.23" r="2.4"/><circle cx="465.17" cy="280.90" r="2.4"/><circle cx="468.00" cy="280.12" r="2.4"/><circle cx="470.21" cy="282.40" r="2.4"/><circle cx="473.77" cy="279.95" r="2.4"/><circle cx="474.81" cy="278.26" r="2.4"/><circle cx="478.12" cy="276.89" r="2.4"/><circle cx="480.68" cy="278.00" r="2.4"/><circle cx="482.04" cy="278.62" r="2.4"/><circle cx="484.60" cy="279.37" r="2.4"/><circle cx="487.91" cy="280.11" r="2.4"/><circle cx="489.98" cy="279.43" r="2.4"/><circle cx="492.76" cy="278.27" r="2.4"/><circle cx="495.51" cy="280.04" r="2.4"/><circle cx="497.41" cy="277.64" r="2.4"/><circle cx="499.62" cy="280.15" r="2.4"/><circle cx="501.46" cy="281.15" r="2.4"/><circle cx="505.01" cy="279.97" r="2.4"/><circle cx="507.05" cy="280.77" r="2.4"/><circle cx="509.97" cy="280.27" r="2.4"/><circle cx="512.41" cy="276.79" r="2.4"/><circle cx="514.27" cy="278.52" r="2.4"/><circle cx="517.88" cy="277.82" r="2.4"/><circle cx="520.11" cy="276.47" r="2.4"/><circle cx="522.48" cy="276.25" r="2.4"/><circle cx="524.19" cy="278.58" r="2.4"/><circle cx="526.94" cy="276.01" r="2.4"/><circle cx="529.35" cy="277.20" r="2.4"/><circle cx="531.86" cy="277.63" r="2.4"/><circle cx="534.06" cy="276.97" r="2.4"/></g>
<path d="M305.50,248.39 L306.08,248.39 L306.65,248.39 L307.23,248.39 L307.80,248.39 L308.38,248.39 L308.96,248.39 L309.53,248.39 L310.11,248.39 L310.68,248.39 L311.26,248.39 L311.84,248.39 L312.41,248.39 L312.99,248.39 L313.56,248.39 L314.14,248.39 L314.72,248.39 L315.29,248.39 L315.87,248.39 L316.44,248.39 L317.02,248.39 L317.59,248.39 L318.17,248.39 L318.75,248.39 L319.32,248.39 L319.90,248.39 L320.47,248.39 L321.05,248.39 L321.63,248.39 L322.20,248.41 L322.78,248.54 L323.35,248.76 L323.93,249.02 L324.51,249.30 L325.08,249.63 L325.66,250.03 L326.23,250.49 L326.81,251.01 L327.39,251.56 L327.96,252.15 L328.54,252.76 L329.11,253.39 L329.69,254.01 L330.27,254.63 L330.84,255.25 L331.42,255.88 L331.99,256.53 L332.57,257.19 L333.15,257.89 L333.72,258.63 L334.30,259.41 L334.87,260.25 L335.45,261.15 L336.02,262.12 L336.60,263.16 L337.18,264.39 L337.75,265.88 L338.33,267.55 L338.90,269.37 L339.48,271.25 L340.06,273.16 L340.63,275.01 L341.21,276.78 L341.78,278.66 L342.36,280.64 L342.94,282.65 L343.51,284.61 L344.09,286.44 L344.66,288.05 L345.24,289.35 L345.82,290.37 L346.39,291.34 L346.97,292.25 L347.54,293.03 L348.12,293.62 L348.70,293.95 L349.27,293.99 L349.85,293.91 L350.42,293.77 L351.00,293.58 L351.58,293.35 L352.15,293.11 L352.73,292.87 L353.30,292.64 L353.88,292.44 L354.45,292.28 L355.03,292.14 L355.61,292.00 L356.18,291.88 L356.76,291.75 L357.33,291.63 L357.91,291.51 L358.49,291.40 L359.06,291.29 L359.64,291.18 L360.21,291.08 L360.79,290.98 L361.37,290.87 L361.94,290.77 L362.52,290.67 L363.09,290.58 L363.67,290.48 L364.25,290.38 L364.82,290.28 L365.40,290.18 L365.97,290.08 L366.55,289.98 L367.13,289.88 L367.70,289.77 L368.28,289.66 L368.85,289.55 L369.43,289.44 L370.01,289.32 L370.58,289.20 L371.16,289.07 L371.73,288.94 L372.31,288.81 L372.88,288.68 L373.46,288.54 L374.04,288.41 L374.61,288.27 L375.19,288.13 L375.76,287.99 L376.34,287.85 L376.92,287.72 L377.49,287.58 L378.07,287.44 L378.64,287.31 L379.22,287.18 L379.80,287.05 L380.37,286.93 L380.95,286.80 L381.52,286.69 L382.10,286.57 L382.68,286.46 L383.25,286.36 L383.83,286.26 L384.40,286.16 L384.98,286.06 L385.56,285.95 L386.13,285.85 L386.71,285.75 L387.28,285.66 L387.86,285.56 L388.44,285.46 L389.01,285.37 L389.59,285.27 L390.16,285.18 L390.74,285.09 L391.32,285.00 L391.89,284.91 L392.47,284.83 L393.04,284.74 L393.62,284.66 L394.19,284.58 L394.77,284.50 L395.35,284.42 L395.92,284.35 L396.50,284.28 L397.07,284.21 L397.65,284.14 L398.23,284.08 L398.80,284.02 L399.38,283.96 L399.95,283.91 L400.53,283.86 L401.11,283.81 L401.68,283.76 L402.26,283.71 L402.83,283.66 L403.41,283.61 L403.99,283.56 L404.56,283.52 L405.14,283.47 L405.71,283.43 L406.29,283.38 L406.87,283.34 L407.44,283.29 L408.02,283.25 L408.59,283.21 L409.17,283.16 L409.75,283.12 L410.32,283.08 L410.90,283.04 L411.47,283.00 L412.05,282.96 L412.62,282.92 L413.20,282.88 L413.78,282.84 L414.35,282.80 L414.93,282.77 L415.50,282.73 L416.08,282.69 L416.66,282.66 L417.23,282.62 L417.81,282.58 L418.38,282.55 L418.96,282.51 L419.54,282.48 L420.11,282.45 L420.69,282.41 L421.26,282.38 L421.84,282.35 L422.42,282.31 L422.99,282.28 L423.57,282.25 L424.14,282.22 L424.72,282.18 L425.30,282.15 L425.87,282.12 L426.45,282.09 L427.02,282.06 L427.60,282.03 L428.18,282.00 L428.75,281.97 L429.33,281.94 L429.90,281.91 L430.48,281.88 L431.05,281.86 L431.63,281.83 L432.21,281.80 L432.78,281.77 L433.36,281.74 L433.93,281.72 L434.51,281.69 L435.09,281.66 L435.66,281.63 L436.24,281.61 L436.81,281.58 L437.39,281.55 L437.97,281.53 L438.54,281.50 L439.12,281.48 L439.69,281.45 L440.27,281.42 L440.85,281.40 L441.42,281.37 L442.00,281.35 L442.57,281.32 L443.15,281.30 L443.73,281.27 L444.30,281.24 L444.88,281.22 L445.45,281.19 L446.03,281.17 L446.61,281.14 L447.18,281.12 L447.76,281.09 L448.33,281.07 L448.91,281.04 L449.48,281.02 L450.06,280.99 L450.64,280.97 L451.21,280.94 L451.79,280.92 L452.36,280.89 L452.94,280.87 L453.52,280.84 L454.09,280.82 L454.67,280.79 L455.24,280.77 L455.82,280.74 L456.40,280.71 L456.97,280.69 L457.55,280.66 L458.12,280.64 L458.70,280.61 L459.28,280.58 L459.85,280.56 L460.43,280.53 L461.00,280.50 L461.58,280.48 L462.16,280.45 L462.73,280.42 L463.31,280.40 L463.88,280.37 L464.46,280.34 L465.04,280.32 L465.61,280.29 L466.19,280.26 L466.76,280.24 L467.34,280.21 L467.92,280.18 L468.49,280.16 L469.07,280.13 L469.64,280.10 L470.22,280.08 L470.79,280.05 L471.37,280.03 L471.95,280.00 L472.52,279.97 L473.10,279.95 L473.67,279.92 L474.25,279.90 L474.83,279.87 L475.40,279.85 L475.98,279.82 L476.55,279.79 L477.13,279.77 L477.71,279.74 L478.28,279.72 L478.86,279.69 L479.43,279.67 L480.01,279.64 L480.59,279.62 L481.16,279.59 L481.74,279.57 L482.31,279.54 L482.89,279.52 L483.47,279.49 L484.04,279.47 L484.62,279.44 L485.19,279.42 L485.77,279.39 L486.35,279.37 L486.92,279.34 L487.50,279.32 L488.07,279.29 L488.65,279.27 L489.22,279.24 L489.80,279.22 L490.38,279.20 L490.95,279.17 L491.53,279.15 L492.10,279.12 L492.68,279.10 L493.26,279.08 L493.83,279.05 L494.41,279.03 L494.98,279.00 L495.56,278.98 L496.14,278.96 L496.71,278.93 L497.29,278.91 L497.86,278.89 L498.44,278.86 L499.02,278.84 L499.59,278.82 L500.17,278.79 L500.74,278.77 L501.32,278.75 L501.90,278.72 L502.47,278.70 L503.05,278.68 L503.62,278.66 L504.20,278.63 L504.78,278.61 L505.35,278.59 L505.93,278.57 L506.50,278.54 L507.08,278.52 L507.65,278.50 L508.23,278.48 L508.81,278.46 L509.38,278.43 L509.96,278.41 L510.53,278.39 L511.11,278.37 L511.69,278.35 L512.26,278.32 L512.84,278.30 L513.41,278.28 L513.99,278.26 L514.57,278.24 L515.14,278.22 L515.72,278.20 L516.29,278.18 L516.87,278.15 L517.45,278.13 L518.02,278.11 L518.60,278.09 L519.17,278.07 L519.75,278.05 L520.33,278.03 L520.90,278.01 L521.48,277.99 L522.05,277.97 L522.63,277.95 L523.21,277.93 L523.78,277.91 L524.36,277.89 L524.93,277.87 L525.51,277.85 L526.08,277.83 L526.66,277.81 L527.24,277.79 L527.81,277.77 L528.39,277.75 L528.96,277.73 L529.54,277.71 L530.12,277.70 L530.69,277.68 L531.27,277.66 L531.84,277.64 L532.42,277.62 L533.00,277.60 L533.57,277.58 L534.15,277.56 L534.72,277.55 L535.30,277.53" fill="none" stroke="#e4e4e4" stroke-width="1.1"/>
<g fill="#c02a6c"><circle cx="305.50" cy="246.60" r="2.4"/><circle cx="307.67" cy="250.56" r="2.4"/><circle cx="310.38" cy="253.12" r="2.4"/><circle cx="313.11" cy="251.09" r="2.4"/><circle cx="315.21" cy="246.20" r="2.4"/><circle cx="317.76" cy="250.91" r="2.4"/><circle cx="320.63" cy="249.48" r="2.4"/><circle cx="323.26" cy="249.56" r="2.4"/><circle cx="325.48" cy="253.48" r="2.4"/><circle cx="328.13" cy="264.76" r="2.4"/><circle cx="329.97" cy="271.48" r="2.4"/><circle cx="332.47" cy="281.65" r="2.4"/><circle cx="335.16" cy="286.76" r="2.4"/><circle cx="337.40" cy="296.73" r="2.4"/><circle cx="339.78" cy="310.39" r="2.4"/><circle cx="343.04" cy="331.65" r="2.4"/><circle cx="344.82" cy="340.64" r="2.4"/><circle cx="347.00" cy="345.95" r="2.4"/><circle cx="350.00" cy="353.06" r="2.4"/><circle cx="352.96" cy="349.23" r="2.4"/><circle cx="354.77" cy="350.35" r="2.4"/><circle cx="357.66" cy="350.21" r="2.4"/><circle cx="359.51" cy="349.15" r="2.4"/><circle cx="361.95" cy="349.22" r="2.4"/><circle cx="364.34" cy="352.04" r="2.4"/><circle cx="367.00" cy="350.28" r="2.4"/><circle cx="370.19" cy="343.26" r="2.4"/><circle cx="371.55" cy="351.33" r="2.4"/><circle cx="375.04" cy="348.71" r="2.4"/><circle cx="376.53" cy="344.69" r="2.4"/><circle cx="379.28" cy="346.88" r="2.4"/><circle cx="382.14" cy="347.73" r="2.4"/><circle cx="384.52" cy="348.40" r="2.4"/><circle cx="386.85" cy="343.54" r="2.4"/><circle cx="388.60" cy="342.08" r="2.4"/><circle cx="391.81" cy="340.74" r="2.4"/><circle cx="393.76" cy="343.68" r="2.4"/><circle cx="397.55" cy="340.91" r="2.4"/><circle cx="398.98" cy="345.67" r="2.4"/><circle cx="401.59" cy="342.57" r="2.4"/><circle cx="403.56" cy="344.39" r="2.4"/><circle cx="406.27" cy="342.13" r="2.4"/><circle cx="408.43" cy="340.58" r="2.4"/><circle cx="411.73" cy="339.53" r="2.4"/><circle cx="413.74" cy="344.23" r="2.4"/><circle cx="416.50" cy="338.64" r="2.4"/><circle cx="418.51" cy="342.57" r="2.4"/><circle cx="421.04" cy="343.62" r="2.4"/><circle cx="424.16" cy="341.28" r="2.4"/><circle cx="425.79" cy="344.17" r="2.4"/><circle cx="427.94" cy="340.49" r="2.4"/><circle cx="431.22" cy="339.48" r="2.4"/><circle cx="433.11" cy="340.45" r="2.4"/><circle cx="435.83" cy="338.44" r="2.4"/><circle cx="438.79" cy="340.15" r="2.4"/><circle cx="440.62" cy="339.21" r="2.4"/><circle cx="443.70" cy="342.32" r="2.4"/><circle cx="445.59" cy="338.62" r="2.4"/><circle cx="448.85" cy="340.40" r="2.4"/><circle cx="451.26" cy="339.20" r="2.4"/><circle cx="453.05" cy="338.18" r="2.4"/><circle cx="455.61" cy="337.24" r="2.4"/><circle cx="457.85" cy="341.36" r="2.4"/><circle cx="460.69" cy="340.87" r="2.4"/><circle cx="463.50" cy="337.60" r="2.4"/><circle cx="465.00" cy="335.61" r="2.4"/><circle cx="468.34" cy="335.53" r="2.4"/><circle cx="469.97" cy="334.10" r="2.4"/><circle cx="472.61" cy="332.86" r="2.4"/><circle cx="474.73" cy="334.54" r="2.4"/><circle cx="478.63" cy="335.34" r="2.4"/><circle cx="480.33" cy="337.55" r="2.4"/><circle cx="482.86" cy="337.08" r="2.4"/><circle cx="484.99" cy="335.72" r="2.4"/><circle cx="488.09" cy="333.65" r="2.4"/><circle cx="489.38" cy="333.62" r="2.4"/><circle cx="492.63" cy="333.78" r="2.4"/><circle cx="495.90" cy="333.80" r="2.4"/><circle cx="497.41" cy="331.78" r="2.4"/><circle cx="500.02" cy="332.50" r="2.4"/><circle cx="502.72" cy="331.99" r="2.4"/><circle cx="504.63" cy="331.75" r="2.4"/><circle cx="507.40" cy="333.47" r="2.4"/><circle cx="510.21" cy="334.31" r="2.4"/><circle cx="512.39" cy="330.46" r="2.4"/><circle cx="514.92" cy="330.36" r="2.4"/><circle cx="517.12" cy="331.62" r="2.4"/><circle cx="519.82" cy="331.78" r="2.4"/><circle cx="522.19" cy="325.14" r="2.4"/><circle cx="525.17" cy="331.99" r="2.4"/><circle cx="527.36" cy="330.46" r="2.4"/><circle cx="529.47" cy="329.08" r="2.4"/><circle cx="531.11" cy="332.25" r="2.4"/><circle cx="534.74" cy="328.83" r="2.4"/><circle cx="321.91" cy="243.32" r="2.4"/><circle cx="322.74" cy="240.79" r="2.4"/></g>
<path d="M305.50,248.39 L306.08,248.39 L306.65,248.39 L307.23,248.39 L307.80,248.39 L308.38,248.39 L308.96,248.39 L309.53,248.39 L310.11,248.39 L310.68,248.39 L311.26,248.39 L311.84,248.39 L312.41,248.39 L312.99,248.39 L313.56,248.39 L314.14,248.39 L314.72,248.39 L315.29,248.39 L315.87,248.39 L316.44,248.39 L317.02,248.39 L317.59,248.39 L318.17,248.39 L318.75,248.39 L319.32,248.39 L319.90,248.39 L320.47,248.39 L321.05,248.39 L321.63,248.39 L322.20,248.48 L322.78,249.14 L323.35,250.31 L323.93,251.83 L324.51,253.53 L325.08,255.25 L325.66,256.86 L326.23,258.50 L326.81,260.28 L327.39,262.17 L327.96,264.14 L328.54,266.16 L329.11,268.21 L329.69,270.25 L330.27,272.28 L330.84,274.34 L331.42,276.44 L331.99,278.56 L332.57,280.72 L333.15,282.90 L333.72,285.10 L334.30,287.31 L334.87,289.51 L335.45,291.70 L336.02,293.88 L336.60,296.10 L337.18,298.37 L337.75,300.72 L338.33,303.18 L338.90,305.79 L339.48,308.60 L340.06,311.62 L340.63,314.78 L341.21,318.04 L341.78,321.32 L342.36,324.59 L342.94,327.77 L343.51,330.89 L344.09,334.30 L344.66,337.83 L345.24,341.16 L345.82,343.99 L346.39,346.02 L346.97,347.26 L347.54,348.39 L348.12,349.39 L348.70,350.23 L349.27,350.88 L349.85,351.29 L350.42,351.43 L351.00,351.42 L351.58,351.41 L352.15,351.39 L352.73,351.36 L353.30,351.32 L353.88,351.28 L354.45,351.23 L355.03,351.18 L355.61,351.13 L356.18,351.07 L356.76,351.01 L357.33,350.94 L357.91,350.88 L358.49,350.81 L359.06,350.74 L359.64,350.68 L360.21,350.61 L360.79,350.55 L361.37,350.48 L361.94,350.40 L362.52,350.32 L363.09,350.23 L363.67,350.14 L364.25,350.04 L364.82,349.94 L365.40,349.83 L365.97,349.72 L366.55,349.60 L367.13,349.48 L367.70,349.36 L368.28,349.24 L368.85,349.11 L369.43,348.98 L370.01,348.84 L370.58,348.70 L371.16,348.56 L371.73,348.42 L372.31,348.28 L372.88,348.14 L373.46,347.99 L374.04,347.85 L374.61,347.70 L375.19,347.55 L375.76,347.40 L376.34,347.25 L376.92,347.11 L377.49,346.96 L378.07,346.81 L378.64,346.67 L379.22,346.52 L379.80,346.38 L380.37,346.23 L380.95,346.09 L381.52,345.95 L382.10,345.82 L382.68,345.68 L383.25,345.55 L383.83,345.42 L384.40,345.30 L384.98,345.17 L385.56,345.06 L386.13,344.94 L386.71,344.83 L387.28,344.72 L387.86,344.62 L388.44,344.52 L389.01,344.43 L389.59,344.34 L390.16,344.26 L390.74,344.19 L391.32,344.11 L391.89,344.04 L392.47,343.96 L393.04,343.89 L393.62,343.82 L394.19,343.75 L394.77,343.69 L395.35,343.62 L395.92,343.55 L396.50,343.49 L397.07,343.43 L397.65,343.37 L398.23,343.31 L398.80,343.25 L399.38,343.19 L399.95,343.13 L400.53,343.07 L401.11,343.02 L401.68,342.96 L402.26,342.91 L402.83,342.85 L403.41,342.80 L403.99,342.75 L404.56,342.69 L405.14,342.64 L405.71,342.59 L406.29,342.54 L406.87,342.49 L407.44,342.44 L408.02,342.39 L408.59,342.34 L409.17,342.29 L409.75,342.24 L410.32,342.19 L410.90,342.14 L411.47,342.09 L412.05,342.04 L412.62,341.99 L413.20,341.93 L413.78,341.88 L414.35,341.83 L414.93,341.78 L415.50,341.73 L416.08,341.67 L416.66,341.62 L417.23,341.57 L417.81,341.51 L418.38,341.46 L418.96,341.40 L419.54,341.34 L420.11,341.29 L420.69,341.23 L421.26,341.17 L421.84,341.11 L422.42,341.06 L422.99,341.00 L423.57,340.94 L424.14,340.88 L424.72,340.82 L425.30,340.77 L425.87,340.71 L426.45,340.65 L427.02,340.59 L427.60,340.53 L428.18,340.48 L428.75,340.42 L429.33,340.36 L429.90,340.30 L430.48,340.24 L431.05,340.19 L431.63,340.13 L432.21,340.07 L432.78,340.01 L433.36,339.95 L433.93,339.90 L434.51,339.84 L435.09,339.78 L435.66,339.72 L436.24,339.66 L436.81,339.61 L437.39,339.55 L437.97,339.49 L438.54,339.43 L439.12,339.37 L439.69,339.31 L440.27,339.26 L440.85,339.20 L441.42,339.14 L442.00,339.08 L442.57,339.02 L443.15,338.97 L443.73,338.91 L444.30,338.85 L444.88,338.79 L445.45,338.73 L446.03,338.67 L446.61,338.61 L447.18,338.56 L447.76,338.50 L448.33,338.44 L448.91,338.38 L449.48,338.32 L450.06,338.26 L450.64,338.20 L451.21,338.15 L451.79,338.09 L452.36,338.03 L452.94,337.97 L453.52,337.91 L454.09,337.85 L454.67,337.79 L455.24,337.73 L455.82,337.67 L456.40,337.62 L456.97,337.56 L457.55,337.50 L458.12,337.44 L458.70,337.38 L459.28,337.32 L459.85,337.26 L460.43,337.20 L461.00,337.14 L461.58,337.08 L462.16,337.02 L462.73,336.96 L463.31,336.90 L463.88,336.84 L464.46,336.78 L465.04,336.72 L465.61,336.66 L466.19,336.60 L466.76,336.54 L467.34,336.48 L467.92,336.42 L468.49,336.36 L469.07,336.30 L469.64,336.24 L470.22,336.18 L470.79,336.12 L471.37,336.06 L471.95,336.00 L472.52,335.94 L473.10,335.88 L473.67,335.82 L474.25,335.76 L474.83,335.70 L475.40,335.64 L475.98,335.58 L476.55,335.52 L477.13,335.46 L477.71,335.39 L478.28,335.33 L478.86,335.27 L479.43,335.21 L480.01,335.15 L480.59,335.09 L481.16,335.03 L481.74,334.97 L482.31,334.90 L482.89,334.84 L483.47,334.78 L484.04,334.72 L484.62,334.66 L485.19,334.60 L485.77,334.53 L486.35,334.47 L486.92,334.41 L487.50,334.35 L488.07,334.29 L488.65,334.22 L489.22,334.16 L489.80,334.10 L490.38,334.04 L490.95,333.98 L491.53,333.91 L492.10,333.85 L492.68,333.79 L493.26,333.73 L493.83,333.66 L494.41,333.60 L494.98,333.54 L495.56,333.48 L496.14,333.41 L496.71,333.35 L497.29,333.29 L497.86,333.23 L498.44,333.16 L499.02,333.10 L499.59,333.04 L500.17,332.97 L500.74,332.91 L501.32,332.85 L501.90,332.78 L502.47,332.72 L503.05,332.66 L503.62,332.59 L504.20,332.53 L504.78,332.47 L505.35,332.40 L505.93,332.34 L506.50,332.28 L507.08,332.21 L507.65,332.15 L508.23,332.09 L508.81,332.02 L509.38,331.96 L509.96,331.90 L510.53,331.83 L511.11,331.77 L511.69,331.70 L512.26,331.64 L512.84,331.58 L513.41,331.51 L513.99,331.45 L514.57,331.38 L515.14,331.32 L515.72,331.26 L516.29,331.19 L516.87,331.13 L517.45,331.06 L518.02,331.00 L518.60,330.93 L519.17,330.87 L519.75,330.80 L520.33,330.74 L520.90,330.68 L521.48,330.61 L522.05,330.55 L522.63,330.48 L523.21,330.42 L523.78,330.35 L524.36,330.29 L524.93,330.22 L525.51,330.16 L526.08,330.09 L526.66,330.03 L527.24,329.96 L527.81,329.90 L528.39,329.83 L528.96,329.77 L529.54,329.70 L530.12,329.64 L530.69,329.57 L531.27,329.50 L531.84,329.44 L532.42,329.37 L533.00,329.31 L533.57,329.24 L534.15,329.18 L534.72,329.11 L535.30,329.05" fill="none" stroke="#e890b8" stroke-width="1.2"/>
<g fill="#951048"><circle cx="306.16" cy="249.40" r="2.4"/><circle cx="308.31" cy="246.70" r="2.4"/><circle cx="310.66" cy="245.82" r="2.4"/><circle cx="313.11" cy="249.40" r="2.4"/><circle cx="315.39" cy="248.27" r="2.4"/><circle cx="318.16" cy="251.99" r="2.4"/><circle cx="320.22" cy="247.62" r="2.4"/><circle cx="322.58" cy="246.98" r="2.4"/><circle cx="325.23" cy="261.32" r="2.4"/><circle cx="327.99" cy="267.71" r="2.4"/><circle cx="330.24" cy="285.32" r="2.4"/><circle cx="332.83" cy="297.21" r="2.4"/><circle cx="334.30" cy="303.77" r="2.4"/><circle cx="337.95" cy="323.58" r="2.4"/><circle cx="340.83" cy="339.88" r="2.4"/><circle cx="342.93" cy="353.97" r="2.4"/><circle cx="344.78" cy="368.30" r="2.4"/><circle cx="347.04" cy="384.10" r="2.4"/><circle cx="349.92" cy="399.51" r="2.4"/><circle cx="351.92" cy="405.99" r="2.4"/><circle cx="355.01" cy="404.30" r="2.4"/><circle cx="357.01" cy="394.98" r="2.4"/><circle cx="360.02" cy="406.02" r="2.4"/><circle cx="362.63" cy="400.37" r="2.4"/><circle cx="363.84" cy="396.19" r="2.4"/><circle cx="367.16" cy="398.53" r="2.4"/><circle cx="369.26" cy="401.74" r="2.4"/><circle cx="371.46" cy="399.45" r="2.4"/><circle cx="374.21" cy="396.98" r="2.4"/><circle cx="376.82" cy="395.77" r="2.4"/><circle cx="379.75" cy="400.71" r="2.4"/><circle cx="381.26" cy="396.28" r="2.4"/><circle cx="384.68" cy="397.08" r="2.4"/><circle cx="387.50" cy="394.55" r="2.4"/><circle cx="389.43" cy="393.60" r="2.4"/><circle cx="391.88" cy="397.74" r="2.4"/><circle cx="394.13" cy="400.32" r="2.4"/><circle cx="396.17" cy="395.46" r="2.4"/><circle cx="399.26" cy="391.68" r="2.4"/><circle cx="401.67" cy="394.24" r="2.4"/><circle cx="404.26" cy="395.18" r="2.4"/><circle cx="407.40" cy="389.43" r="2.4"/><circle cx="409.18" cy="398.01" r="2.4"/><circle cx="411.53" cy="392.90" r="2.4"/><circle cx="414.41" cy="396.41" r="2.4"/><circle cx="415.80" cy="394.73" r="2.4"/><circle cx="418.34" cy="394.43" r="2.4"/><circle cx="421.08" cy="390.61" r="2.4"/><circle cx="423.44" cy="396.63" r="2.4"/><circle cx="426.40" cy="395.39" r="2.4"/><circle cx="428.49" cy="397.91" r="2.4"/><circle cx="431.71" cy="392.40" r="2.4"/><circle cx="434.09" cy="394.62" r="2.4"/><circle cx="436.28" cy="392.24" r="2.4"/><circle cx="438.31" cy="395.88" r="2.4"/><circle cx="441.15" cy="393.87" r="2.4"/><circle cx="443.68" cy="390.15" r="2.4"/><circle cx="445.45" cy="393.10" r="2.4"/><circle cx="448.43" cy="390.86" r="2.4"/><circle cx="451.03" cy="390.92" r="2.4"/><circle cx="453.31" cy="392.99" r="2.4"/><circle cx="456.27" cy="395.84" r="2.4"/><circle cx="458.60" cy="389.23" r="2.4"/><circle cx="460.31" cy="391.17" r="2.4"/><circle cx="463.12" cy="388.90" r="2.4"/><circle cx="465.23" cy="396.34" r="2.4"/><circle cx="468.22" cy="395.21" r="2.4"/><circle cx="470.14" cy="396.30" r="2.4"/><circle cx="473.27" cy="392.86" r="2.4"/><circle cx="475.53" cy="387.82" r="2.4"/><circle cx="478.21" cy="388.81" r="2.4"/><circle cx="480.26" cy="390.17" r="2.4"/><circle cx="482.24" cy="389.59" r="2.4"/><circle cx="485.89" cy="387.69" r="2.4"/><circle cx="487.63" cy="390.24" r="2.4"/><circle cx="490.67" cy="388.22" r="2.4"/><circle cx="492.78" cy="388.69" r="2.4"/><circle cx="495.33" cy="394.37" r="2.4"/><circle cx="498.22" cy="389.55" r="2.4"/><circle cx="500.13" cy="384.97" r="2.4"/><circle cx="502.99" cy="389.17" r="2.4"/><circle cx="504.39" cy="388.41" r="2.4"/><circle cx="507.72" cy="389.29" r="2.4"/><circle cx="509.77" cy="388.80" r="2.4"/><circle cx="512.27" cy="384.50" r="2.4"/><circle cx="514.79" cy="387.80" r="2.4"/><circle cx="517.37" cy="389.47" r="2.4"/><circle cx="520.32" cy="394.50" r="2.4"/><circle cx="521.48" cy="387.96" r="2.4"/><circle cx="524.65" cy="391.19" r="2.4"/><circle cx="526.83" cy="390.63" r="2.4"/><circle cx="529.99" cy="383.70" r="2.4"/><circle cx="531.86" cy="383.74" r="2.4"/><circle cx="534.65" cy="390.13" r="2.4"/><circle cx="321.09" cy="245.01" r="2.4"/><circle cx="322.74" cy="240.37" r="2.4"/><circle cx="351.62" cy="413.92" r="2.4"/></g>
<path d="M305.50,248.39 L306.08,248.39 L306.65,248.39 L307.23,248.39 L307.80,248.39 L308.38,248.39 L308.96,248.39 L309.53,248.39 L310.11,248.39 L310.68,248.39 L311.26,248.39 L311.84,248.39 L312.41,248.39 L312.99,248.39 L313.56,248.39 L314.14,248.39 L314.72,248.39 L315.29,248.39 L315.87,248.39 L316.44,248.39 L317.02,248.39 L317.59,248.39 L318.17,248.39 L318.75,248.39 L319.32,248.39 L319.90,248.39 L320.47,248.39 L321.05,248.39 L321.63,248.39 L322.20,248.54 L322.78,249.63 L323.35,251.54 L323.93,253.97 L324.51,256.64 L325.08,259.26 L325.66,261.55 L326.23,263.72 L326.81,265.91 L327.39,268.14 L327.96,270.42 L328.54,272.75 L329.11,275.15 L329.69,277.62 L330.27,280.17 L330.84,282.80 L331.42,285.52 L331.99,288.31 L332.57,291.18 L333.15,294.13 L333.72,297.15 L334.30,300.25 L334.87,303.46 L335.45,306.82 L336.02,310.30 L336.60,313.87 L337.18,317.48 L337.75,321.12 L338.33,324.73 L338.90,328.29 L339.48,331.77 L340.06,335.22 L340.63,338.69 L341.21,342.24 L341.78,345.92 L342.36,349.79 L342.94,353.85 L343.51,358.08 L344.09,362.47 L344.66,367.13 L345.24,372.40 L345.82,377.63 L346.39,381.96 L346.97,385.49 L347.54,388.75 L348.12,391.68 L348.70,394.24 L349.27,396.35 L349.85,398.09 L350.42,399.78 L351.00,401.28 L351.58,402.39 L352.15,402.92 L352.73,402.86 L353.30,402.57 L353.88,402.14 L354.45,401.63 L355.03,401.13 L355.61,400.71 L356.18,400.45 L356.76,400.36 L357.33,400.30 L357.91,400.24 L358.49,400.18 L359.06,400.13 L359.64,400.09 L360.21,400.05 L360.79,400.02 L361.37,399.99 L361.94,399.96 L362.52,399.93 L363.09,399.91 L363.67,399.89 L364.25,399.87 L364.82,399.85 L365.40,399.82 L365.97,399.80 L366.55,399.78 L367.13,399.75 L367.70,399.73 L368.28,399.70 L368.85,399.66 L369.43,399.63 L370.01,399.58 L370.58,399.54 L371.16,399.49 L371.73,399.43 L372.31,399.38 L372.88,399.32 L373.46,399.25 L374.04,399.19 L374.61,399.12 L375.19,399.05 L375.76,398.97 L376.34,398.90 L376.92,398.82 L377.49,398.74 L378.07,398.66 L378.64,398.58 L379.22,398.50 L379.80,398.42 L380.37,398.34 L380.95,398.25 L381.52,398.17 L382.10,398.09 L382.68,398.00 L383.25,397.92 L383.83,397.84 L384.40,397.76 L384.98,397.68 L385.56,397.60 L386.13,397.52 L386.71,397.45 L387.28,397.38 L387.86,397.30 L388.44,397.23 L389.01,397.17 L389.59,397.10 L390.16,397.04 L390.74,396.98 L391.32,396.93 L391.89,396.87 L392.47,396.81 L393.04,396.76 L393.62,396.70 L394.19,396.65 L394.77,396.59 L395.35,396.54 L395.92,396.48 L396.50,396.43 L397.07,396.38 L397.65,396.33 L398.23,396.28 L398.80,396.22 L399.38,396.17 L399.95,396.12 L400.53,396.08 L401.11,396.03 L401.68,395.98 L402.26,395.93 L402.83,395.88 L403.41,395.83 L403.99,395.79 L404.56,395.74 L405.14,395.69 L405.71,395.65 L406.29,395.60 L406.87,395.55 L407.44,395.51 L408.02,395.46 L408.59,395.42 L409.17,395.37 L409.75,395.33 L410.32,395.28 L410.90,395.24 L411.47,395.19 L412.05,395.15 L412.62,395.10 L413.20,395.06 L413.78,395.01 L414.35,394.97 L414.93,394.92 L415.50,394.88 L416.08,394.83 L416.66,394.79 L417.23,394.75 L417.81,394.70 L418.38,394.66 L418.96,394.61 L419.54,394.57 L420.11,394.52 L420.69,394.47 L421.26,394.43 L421.84,394.38 L422.42,394.34 L422.99,394.29 L423.57,394.25 L424.14,394.21 L424.72,394.16 L425.30,394.12 L425.87,394.07 L426.45,394.03 L427.02,393.99 L427.60,393.94 L428.18,393.90 L428.75,393.86 L429.33,393.81 L429.90,393.77 L430.48,393.73 L431.05,393.69 L431.63,393.64 L432.21,393.60 L432.78,393.56 L433.36,393.52 L433.93,393.48 L434.51,393.43 L435.09,393.39 L435.66,393.35 L436.24,393.31 L436.81,393.27 L437.39,393.23 L437.97,393.18 L438.54,393.14 L439.12,393.10 L439.69,393.06 L440.27,393.02 L440.85,392.98 L441.42,392.94 L442.00,392.90 L442.57,392.86 L443.15,392.82 L443.73,392.78 L444.30,392.73 L444.88,392.69 L445.45,392.65 L446.03,392.61 L446.61,392.57 L447.18,392.53 L447.76,392.49 L448.33,392.45 L448.91,392.41 L449.48,392.37 L450.06,392.33 L450.64,392.29 L451.21,392.25 L451.79,392.21 L452.36,392.17 L452.94,392.13 L453.52,392.08 L454.09,392.04 L454.67,392.00 L455.24,391.96 L455.82,391.92 L456.40,391.88 L456.97,391.84 L457.55,391.80 L458.12,391.76 L458.70,391.72 L459.28,391.67 L459.85,391.63 L460.43,391.59 L461.00,391.55 L461.58,391.51 L462.16,391.47 L462.73,391.42 L463.31,391.38 L463.88,391.34 L464.46,391.30 L465.04,391.26 L465.61,391.21 L466.19,391.17 L466.76,391.13 L467.34,391.09 L467.92,391.04 L468.49,391.00 L469.07,390.96 L469.64,390.91 L470.22,390.87 L470.79,390.83 L471.37,390.78 L471.95,390.74 L472.52,390.69 L473.10,390.65 L473.67,390.60 L474.25,390.56 L474.83,390.51 L475.40,390.47 L475.98,390.42 L476.55,390.38 L477.13,390.33 L477.71,390.29 L478.28,390.24 L478.86,390.19 L479.43,390.15 L480.01,390.10 L480.59,390.05 L481.16,390.01 L481.74,389.96 L482.31,389.91 L482.89,389.87 L483.47,389.82 L484.04,389.77 L484.62,389.73 L485.19,389.68 L485.77,389.63 L486.35,389.58 L486.92,389.53 L487.50,389.49 L488.07,389.44 L488.65,389.39 L489.22,389.34 L489.80,389.30 L490.38,389.25 L490.95,389.20 L491.53,389.15 L492.10,389.10 L492.68,389.05 L493.26,389.00 L493.83,388.96 L494.41,388.91 L494.98,388.86 L495.56,388.81 L496.14,388.76 L496.71,388.71 L497.29,388.66 L497.86,388.61 L498.44,388.56 L499.02,388.51 L499.59,388.46 L500.17,388.41 L500.74,388.36 L501.32,388.31 L501.90,388.26 L502.47,388.21 L503.05,388.16 L503.62,388.11 L504.20,388.06 L504.78,388.01 L505.35,387.96 L505.93,387.91 L506.50,387.86 L507.08,387.81 L507.65,387.76 L508.23,387.70 L508.81,387.65 L509.38,387.60 L509.96,387.55 L510.53,387.50 L511.11,387.45 L511.69,387.40 L512.26,387.34 L512.84,387.29 L513.41,387.24 L513.99,387.19 L514.57,387.14 L515.14,387.08 L515.72,387.03 L516.29,386.98 L516.87,386.93 L517.45,386.88 L518.02,386.82 L518.60,386.77 L519.17,386.72 L519.75,386.66 L520.33,386.61 L520.90,386.56 L521.48,386.51 L522.05,386.45 L522.63,386.40 L523.21,386.35 L523.78,386.29 L524.36,386.24 L524.93,386.19 L525.51,386.13 L526.08,386.08 L526.66,386.02 L527.24,385.97 L527.81,385.92 L528.39,385.86 L528.96,385.81 L529.54,385.75 L530.12,385.70 L530.69,385.65 L531.27,385.59 L531.84,385.54 L532.42,385.48 L533.00,385.43 L533.57,385.37 L534.15,385.32 L534.72,385.26 L535.30,385.21" fill="none" stroke="#d04a88" stroke-width="1.2"/>
<line x1="63.94" y1="188.00" x2="63.94" y2="191.60" class="ax"/>
<line x1="98.62" y1="188.00" x2="98.62" y2="191.60" class="ax"/>
<line x1="133.29" y1="188.00" x2="133.29" y2="191.60" class="ax"/>
<line x1="167.97" y1="188.00" x2="167.97" y2="191.60" class="ax"/>
<line x1="202.65" y1="188.00" x2="202.65" y2="191.60" class="ax"/>
<line x1="237.32" y1="188.00" x2="237.32" y2="191.60" class="ax"/>
<line x1="272.00" y1="188.00" x2="272.00" y2="191.60" class="ax"/>
<line x1="46.60" y1="188.00" x2="46.60" y2="190.20" class="ax"/>
<line x1="81.28" y1="188.00" x2="81.28" y2="190.20" class="ax"/>
<line x1="115.95" y1="188.00" x2="115.95" y2="190.20" class="ax"/>
<line x1="150.63" y1="188.00" x2="150.63" y2="190.20" class="ax"/>
<line x1="185.31" y1="188.00" x2="185.31" y2="190.20" class="ax"/>
<line x1="219.98" y1="188.00" x2="219.98" y2="190.20" class="ax"/>
<line x1="254.66" y1="188.00" x2="254.66" y2="190.20" class="ax"/>
<line x1="43.00" y1="188.00" x2="46.60" y2="188.00" class="ax"/>
<line x1="43.00" y1="147.67" x2="46.60" y2="147.67" class="ax"/>
<line x1="43.00" y1="107.33" x2="46.60" y2="107.33" class="ax"/>
<line x1="43.00" y1="67.00" x2="46.60" y2="67.00" class="ax"/>
<line x1="43.00" y1="26.67" x2="46.60" y2="26.67" class="ax"/>
<line x1="44.40" y1="167.83" x2="46.60" y2="167.83" class="ax"/>
<line x1="44.40" y1="127.50" x2="46.60" y2="127.50" class="ax"/>
<line x1="44.40" y1="87.17" x2="46.60" y2="87.17" class="ax"/>
<line x1="44.40" y1="46.83" x2="46.60" y2="46.83" class="ax"/>
<line x1="44.40" y1="6.50" x2="46.60" y2="6.50" class="ax"/>
<rect x="46.60" y="6.50" width="225.40" height="181.50" fill="none" class="ax"/>
<text x="63.94" y="203.10" font-size="10" text-anchor="middle">500</text>
<text x="98.62" y="203.10" font-size="10" text-anchor="middle">550</text>
<text x="133.29" y="203.10" font-size="10" text-anchor="middle">600</text>
<text x="167.97" y="203.10" font-size="10" text-anchor="middle">650</text>
<text x="202.65" y="203.10" font-size="10" text-anchor="middle">700</text>
<text x="237.32" y="203.10" font-size="10" text-anchor="middle">750</text>
<text x="272.00" y="203.10" font-size="10" text-anchor="middle">800</text>
<text x="40.00" y="191.60" font-size="10" text-anchor="end">-30</text>
<text x="40.00" y="151.27" font-size="10" text-anchor="end">-20</text>
<text x="40.00" y="110.93" font-size="10" text-anchor="end">-10</text>
<text x="40.00" y="70.60" font-size="10" text-anchor="end">0</text>
<text x="40.00" y="30.27" font-size="10" text-anchor="end">10</text>
<line x1="322.35" y1="188.00" x2="322.35" y2="191.60" class="ax"/>
<line x1="357.04" y1="188.00" x2="357.04" y2="191.60" class="ax"/>
<line x1="391.73" y1="188.00" x2="391.73" y2="191.60" class="ax"/>
<line x1="426.42" y1="188.00" x2="426.42" y2="191.60" class="ax"/>
<line x1="461.12" y1="188.00" x2="461.12" y2="191.60" class="ax"/>
<line x1="495.81" y1="188.00" x2="495.81" y2="191.60" class="ax"/>
<line x1="530.50" y1="188.00" x2="530.50" y2="191.60" class="ax"/>
<line x1="305.00" y1="188.00" x2="305.00" y2="190.20" class="ax"/>
<line x1="339.69" y1="188.00" x2="339.69" y2="190.20" class="ax"/>
<line x1="374.38" y1="188.00" x2="374.38" y2="190.20" class="ax"/>
<line x1="409.08" y1="188.00" x2="409.08" y2="190.20" class="ax"/>
<line x1="443.77" y1="188.00" x2="443.77" y2="190.20" class="ax"/>
<line x1="478.46" y1="188.00" x2="478.46" y2="190.20" class="ax"/>
<line x1="513.15" y1="188.00" x2="513.15" y2="190.20" class="ax"/>
<line x1="301.40" y1="188.00" x2="305.00" y2="188.00" class="ax"/>
<line x1="301.40" y1="147.67" x2="305.00" y2="147.67" class="ax"/>
<line x1="301.40" y1="107.33" x2="305.00" y2="107.33" class="ax"/>
<line x1="301.40" y1="67.00" x2="305.00" y2="67.00" class="ax"/>
<line x1="301.40" y1="26.67" x2="305.00" y2="26.67" class="ax"/>
<line x1="302.80" y1="167.83" x2="305.00" y2="167.83" class="ax"/>
<line x1="302.80" y1="127.50" x2="305.00" y2="127.50" class="ax"/>
<line x1="302.80" y1="87.17" x2="305.00" y2="87.17" class="ax"/>
<line x1="302.80" y1="46.83" x2="305.00" y2="46.83" class="ax"/>
<line x1="302.80" y1="6.50" x2="305.00" y2="6.50" class="ax"/>
<rect x="305.00" y="6.50" width="225.50" height="181.50" fill="none" class="ax"/>
<text x="322.35" y="203.10" font-size="10" text-anchor="middle">500</text>
<text x="357.04" y="203.10" font-size="10" text-anchor="middle">550</text>
<text x="391.73" y="203.10" font-size="10" text-anchor="middle">600</text>
<text x="426.42" y="203.10" font-size="10" text-anchor="middle">650</text>
<text x="461.12" y="203.10" font-size="10" text-anchor="middle">700</text>
<text x="495.81" y="203.10" font-size="10" text-anchor="middle">750</text>
<text x="530.50" y="203.10" font-size="10" text-anchor="middle">800</text>
<text x="298.40" y="191.60" font-size="10" text-anchor="end">-30</text>
<text x="298.40" y="151.27" font-size="10" text-anchor="end">-20</text>
<text x="298.40" y="110.93" font-size="10" text-anchor="end">-10</text>
<text x="298.40" y="70.60" font-size="10" text-anchor="end">0</text>
<text x="298.40" y="30.27" font-size="10" text-anchor="end">10</text>
<line x1="43.00" y1="416.40" x2="43.00" y2="419.80" class="ax"/>
<line x1="75.83" y1="416.40" x2="75.83" y2="419.80" class="ax"/>
<line x1="108.66" y1="416.40" x2="108.66" y2="419.80" class="ax"/>
<line x1="141.49" y1="416.40" x2="141.49" y2="419.80" class="ax"/>
<line x1="174.31" y1="416.40" x2="174.31" y2="419.80" class="ax"/>
<line x1="207.14" y1="416.40" x2="207.14" y2="419.80" class="ax"/>
<line x1="239.97" y1="416.40" x2="239.97" y2="419.80" class="ax"/>
<line x1="272.80" y1="416.40" x2="272.80" y2="419.80" class="ax"/>
<line x1="59.41" y1="416.40" x2="59.41" y2="418.40" class="ax"/>
<line x1="92.24" y1="416.40" x2="92.24" y2="418.40" class="ax"/>
<line x1="125.07" y1="416.40" x2="125.07" y2="418.40" class="ax"/>
<line x1="157.90" y1="416.40" x2="157.90" y2="418.40" class="ax"/>
<line x1="190.73" y1="416.40" x2="190.73" y2="418.40" class="ax"/>
<line x1="223.56" y1="416.40" x2="223.56" y2="418.40" class="ax"/>
<line x1="256.39" y1="416.40" x2="256.39" y2="418.40" class="ax"/>
<line x1="39.60" y1="251.60" x2="43.00" y2="251.60" class="ax"/>
<line x1="39.60" y1="292.80" x2="43.00" y2="292.80" class="ax"/>
<line x1="39.60" y1="334.00" x2="43.00" y2="334.00" class="ax"/>
<line x1="39.60" y1="375.20" x2="43.00" y2="375.20" class="ax"/>
<line x1="39.60" y1="416.40" x2="43.00" y2="416.40" class="ax"/>
<line x1="41.00" y1="231.00" x2="43.00" y2="231.00" class="ax"/>
<line x1="41.00" y1="272.20" x2="43.00" y2="272.20" class="ax"/>
<line x1="41.00" y1="313.40" x2="43.00" y2="313.40" class="ax"/>
<line x1="41.00" y1="354.60" x2="43.00" y2="354.60" class="ax"/>
<line x1="41.00" y1="395.80" x2="43.00" y2="395.80" class="ax"/>
<rect x="43.00" y="231.00" width="229.80" height="185.40" fill="none" class="ax"/>
<text x="43.00" y="429.51" font-size="7.7" text-anchor="middle">-0.4</text>
<text x="75.83" y="429.51" font-size="7.7" text-anchor="middle">0.0</text>
<text x="108.66" y="429.51" font-size="7.7" text-anchor="middle">0.4</text>
<text x="141.49" y="429.51" font-size="7.7" text-anchor="middle">0.8</text>
<text x="174.31" y="429.51" font-size="7.7" text-anchor="middle">1.2</text>
<text x="207.14" y="429.51" font-size="7.7" text-anchor="middle">1.6</text>
<text x="239.97" y="429.51" font-size="7.7" text-anchor="middle">2.0</text>
<text x="272.80" y="429.51" font-size="7.7" text-anchor="middle">2.4</text>
<text x="37.60" y="254.37" font-size="7.7" text-anchor="end">0</text>
<text x="37.60" y="295.57" font-size="7.7" text-anchor="end">-5</text>
<text x="37.60" y="336.77" font-size="7.7" text-anchor="end">-10</text>
<text x="37.60" y="377.97" font-size="7.7" text-anchor="end">-15</text>
<text x="37.60" y="419.17" font-size="7.7" text-anchor="end">-20</text>
<line x1="305.50" y1="417.30" x2="305.50" y2="420.70" class="ax"/>
<line x1="338.33" y1="417.30" x2="338.33" y2="420.70" class="ax"/>
<line x1="371.16" y1="417.30" x2="371.16" y2="420.70" class="ax"/>
<line x1="403.99" y1="417.30" x2="403.99" y2="420.70" class="ax"/>
<line x1="436.81" y1="417.30" x2="436.81" y2="420.70" class="ax"/>
<line x1="469.64" y1="417.30" x2="469.64" y2="420.70" class="ax"/>
<line x1="502.47" y1="417.30" x2="502.47" y2="420.70" class="ax"/>
<line x1="535.30" y1="417.30" x2="535.30" y2="420.70" class="ax"/>
<line x1="321.91" y1="417.30" x2="321.91" y2="419.30" class="ax"/>
<line x1="354.74" y1="417.30" x2="354.74" y2="419.30" class="ax"/>
<line x1="387.57" y1="417.30" x2="387.57" y2="419.30" class="ax"/>
<line x1="420.40" y1="417.30" x2="420.40" y2="419.30" class="ax"/>
<line x1="453.23" y1="417.30" x2="453.23" y2="419.30" class="ax"/>
<line x1="486.06" y1="417.30" x2="486.06" y2="419.30" class="ax"/>
<line x1="518.89" y1="417.30" x2="518.89" y2="419.30" class="ax"/>
<line x1="302.10" y1="248.39" x2="305.50" y2="248.39" class="ax"/>
<line x1="302.10" y1="282.17" x2="305.50" y2="282.17" class="ax"/>
<line x1="302.10" y1="315.95" x2="305.50" y2="315.95" class="ax"/>
<line x1="302.10" y1="349.74" x2="305.50" y2="349.74" class="ax"/>
<line x1="302.10" y1="383.52" x2="305.50" y2="383.52" class="ax"/>
<line x1="302.10" y1="417.30" x2="305.50" y2="417.30" class="ax"/>
<line x1="303.50" y1="265.28" x2="305.50" y2="265.28" class="ax"/>
<line x1="303.50" y1="299.06" x2="305.50" y2="299.06" class="ax"/>
<line x1="303.50" y1="332.85" x2="305.50" y2="332.85" class="ax"/>
<line x1="303.50" y1="366.63" x2="305.50" y2="366.63" class="ax"/>
<line x1="303.50" y1="400.41" x2="305.50" y2="400.41" class="ax"/>
<rect x="305.50" y="231.50" width="229.80" height="185.80" fill="none" class="ax"/>
<text x="305.50" y="430.41" font-size="7.7" text-anchor="middle">-0.4</text>
<text x="338.33" y="430.41" font-size="7.7" text-anchor="middle">0.0</text>
<text x="371.16" y="430.41" font-size="7.7" text-anchor="middle">0.4</text>
<text x="403.99" y="430.41" font-size="7.7" text-anchor="middle">0.8</text>
<text x="436.81" y="430.41" font-size="7.7" text-anchor="middle">1.2</text>
<text x="469.64" y="430.41" font-size="7.7" text-anchor="middle">1.6</text>
<text x="502.47" y="430.41" font-size="7.7" text-anchor="middle">2.0</text>
<text x="535.30" y="430.41" font-size="7.7" text-anchor="middle">2.4</text>
<text x="300.10" y="251.16" font-size="7.7" text-anchor="end">0</text>
<text x="300.10" y="284.94" font-size="7.7" text-anchor="end">-4</text>
<text x="300.10" y="318.73" font-size="7.7" text-anchor="end">-8</text>
<text x="300.10" y="352.51" font-size="7.7" text-anchor="end">-12</text>
<text x="300.10" y="386.29" font-size="7.7" text-anchor="end">-16</text>
<text x="300.10" y="420.07" font-size="7.7" text-anchor="end">-20</text>
<line x1="59.2" y1="133.3" x2="85.0" y2="133.3" stroke="#0a0a0a" stroke-width="2.8"/>
<text x="86.4" y="136.9" font-size="10.2">6 &#181;J/cm<tspan font-size="6.6" dx="0.4" dy="-4.2">2</tspan></text>
<line x1="59.2" y1="147.6" x2="85.0" y2="147.6" stroke="#a5a5a5" stroke-width="2.8"/>
<text x="86.4" y="151.2" font-size="10.2">15 &#181;J/cm<tspan font-size="6.6" dx="0.4" dy="-4.2">2</tspan></text>
<line x1="59.2" y1="161.5" x2="85.0" y2="161.5" stroke="#d0245e" stroke-width="2.8"/>
<text x="86.4" y="165.1" font-size="10.2">30 &#181;J/cm<tspan font-size="6.6" dx="0.4" dy="-4.2">2</tspan></text>
<line x1="59.2" y1="175.5" x2="85.0" y2="175.5" stroke="#7d0a36" stroke-width="2.8"/>
<text x="86.4" y="179.1" font-size="10.2">60 &#181;J/cm<tspan font-size="6.6" dx="0.4" dy="-4.2">2</tspan></text>
<line x1="317.2" y1="132.9" x2="341.4" y2="132.9" stroke="#0a0a0a" stroke-width="2.8"/>
<text x="343.7" y="136.5" font-size="10.2">6 &#181;J/cm<tspan font-size="6.6" dx="0.4" dy="-4.2">2</tspan></text>
<line x1="317.2" y1="147.0" x2="341.4" y2="147.0" stroke="#a5a5a5" stroke-width="2.8"/>
<text x="343.7" y="150.6" font-size="10.2">15 &#181;J/cm<tspan font-size="6.6" dx="0.4" dy="-4.2">2</tspan></text>
<line x1="317.2" y1="160.7" x2="341.4" y2="160.7" stroke="#d0245e" stroke-width="2.8"/>
<text x="343.7" y="164.29999999999998" font-size="10.2">30 &#181;J/cm<tspan font-size="6.6" dx="0.4" dy="-4.2">2</tspan></text>
<line x1="317.2" y1="174.5" x2="341.4" y2="174.5" stroke="#7d0a36" stroke-width="2.8"/>
<text x="343.7" y="178.1" font-size="10.2">60 &#181;J/cm<tspan font-size="6.6" dx="0.4" dy="-4.2">2</tspan></text>
<g font-family='"Liberation Serif", serif' font-weight="bold">
<text x="48.5" y="20.3" font-size="13.4">(</text><text x="61.1" y="20.3" font-size="13.4">)</text>
<text transform="translate(53.5,22.0) scale(0.89,1)" font-size="15">a</text>
</g>
<g font-family='"Liberation Serif", serif' font-weight="bold">
<text x="310.1" y="20.3" font-size="13.4">(</text><text x="324.8" y="20.3" font-size="13.4">)</text>
<text transform="translate(314.25,21.45) scale(1.2,1)" font-size="14.5">b</text>
</g>
<g font-family='"Liberation Serif", serif' font-weight="bold">
<text x="46.6" y="405.1" font-size="13.4">(</text><text x="58.6" y="405.1" font-size="13.4">)</text>
<text transform="translate(51.3,406.6) scale(1.04,1)" font-size="15">c</text>
</g>
<g font-family='"Liberation Serif", serif' font-weight="bold">
<text x="310.4" y="405.1" font-size="13.4">(</text><text x="324.8" y="405.1" font-size="13.4">)</text>
<text transform="translate(315.25,406.6) scale(1.12,1)" font-size="14.5">d</text>
</g>
<text x="237.8" y="23" font-weight="bold" font-size="12.4">EAS<tspan font-size="8.6" dx="0.7" dy="3.2">1</tspan></text>
<text x="496.0" y="23" font-weight="bold" font-size="12.4">EAS<tspan font-size="8.6" dx="0.7" dy="3.2">2</tspan></text>
<text x="159.4" y="220.0" font-size="10.45" text-anchor="middle">Wavelength (nm)</text>
<text x="417.7" y="220.0" font-size="10.45" text-anchor="middle">Wavelength (nm)</text>
<text x="159.5" y="446" font-size="9.9" text-anchor="middle">Time delay (ps)</text>
<text x="428.6" y="446" font-size="9.9" text-anchor="middle">Time delay (ps)</text>
<text transform="translate(16.2,92.2) rotate(-90)" font-size="10.4" text-anchor="middle">10<tspan font-size="6.4" dy="-3.1">-3</tspan><tspan dy="3.1"> &#916;A</tspan></text>
<text transform="translate(18.7,323.4) rotate(-90)" font-size="9.5" text-anchor="middle">10<tspan font-size="5.9" dy="-2.9">-3</tspan><tspan dy="2.9"> &#916;A</tspan></text>
</svg></body></html>
